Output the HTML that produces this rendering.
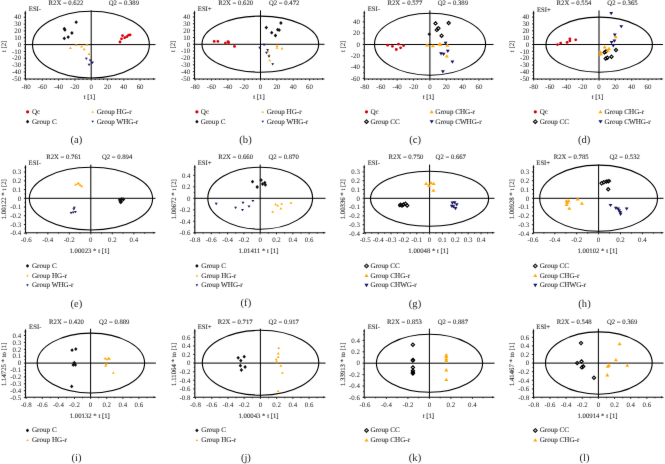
<!DOCTYPE html>
<html><head><meta charset="utf-8"><style>
html,body{margin:0;padding:0;background:#fff;}
svg{display:block;}
#w{width:665px;height:464px;}
text{font-family:"Liberation Serif", serif;stroke:#333;stroke-width:0.08px;text-rendering:geometricPrecision;}
</style></head><body>
<div id="w"><svg width="665" height="464" viewBox="0 0 665 464">
<defs><filter id="bl" filterUnits="userSpaceOnUse" x="0" y="0" width="665" height="464"><feConvolveMatrix order="3" kernelMatrix="0.005 0.045 0.005 0.045 0.8 0.045 0.005 0.045 0.005" edgeMode="duplicate" preserveAlpha="false"/></filter></defs>
<rect width="665" height="464" fill="#fff"/>
<g filter="url(#bl)">
<ellipse cx="90.95" cy="44.65" rx="58.45" ry="33.35" fill="none" stroke="#000" stroke-width="1.1"/>
<line x1="25.40" y1="44.60" x2="155.50" y2="44.60" stroke="#000" stroke-width="1.0"/>
<line x1="91.20" y1="10.40" x2="91.20" y2="79.00" stroke="#000" stroke-width="1.0"/>
<line x1="25.40" y1="12.40" x2="25.40" y2="79.50" stroke="#111" stroke-width="1.1"/>
<path d="M24.45 13.20L25.40 10.20L26.35 13.20Z" fill="#111"/>
<line x1="24.90" y1="79.00" x2="154.00" y2="79.00" stroke="#111" stroke-width="1.1"/>
<path d="M153.20 78.05L156.00 79.00L153.20 79.95Z" fill="#111"/>
<line x1="26.00" y1="79.00" x2="26.00" y2="80.60" stroke="#111" stroke-width="0.9"/>
<line x1="30.08" y1="79.00" x2="30.08" y2="80.00" stroke="#111" stroke-width="0.9"/>
<line x1="34.15" y1="79.00" x2="34.15" y2="80.00" stroke="#111" stroke-width="0.9"/>
<line x1="38.23" y1="79.00" x2="38.23" y2="80.00" stroke="#111" stroke-width="0.9"/>
<line x1="42.30" y1="79.00" x2="42.30" y2="80.60" stroke="#111" stroke-width="0.9"/>
<line x1="46.38" y1="79.00" x2="46.38" y2="80.00" stroke="#111" stroke-width="0.9"/>
<line x1="50.45" y1="79.00" x2="50.45" y2="80.00" stroke="#111" stroke-width="0.9"/>
<line x1="54.53" y1="79.00" x2="54.53" y2="80.00" stroke="#111" stroke-width="0.9"/>
<line x1="58.60" y1="79.00" x2="58.60" y2="80.60" stroke="#111" stroke-width="0.9"/>
<line x1="62.68" y1="79.00" x2="62.68" y2="80.00" stroke="#111" stroke-width="0.9"/>
<line x1="66.75" y1="79.00" x2="66.75" y2="80.00" stroke="#111" stroke-width="0.9"/>
<line x1="70.83" y1="79.00" x2="70.83" y2="80.00" stroke="#111" stroke-width="0.9"/>
<line x1="74.90" y1="79.00" x2="74.90" y2="80.60" stroke="#111" stroke-width="0.9"/>
<line x1="78.98" y1="79.00" x2="78.98" y2="80.00" stroke="#111" stroke-width="0.9"/>
<line x1="83.05" y1="79.00" x2="83.05" y2="80.00" stroke="#111" stroke-width="0.9"/>
<line x1="87.12" y1="79.00" x2="87.12" y2="80.00" stroke="#111" stroke-width="0.9"/>
<line x1="91.20" y1="79.00" x2="91.20" y2="80.60" stroke="#111" stroke-width="0.9"/>
<line x1="95.28" y1="79.00" x2="95.28" y2="80.00" stroke="#111" stroke-width="0.9"/>
<line x1="99.35" y1="79.00" x2="99.35" y2="80.00" stroke="#111" stroke-width="0.9"/>
<line x1="103.42" y1="79.00" x2="103.42" y2="80.00" stroke="#111" stroke-width="0.9"/>
<line x1="107.50" y1="79.00" x2="107.50" y2="80.60" stroke="#111" stroke-width="0.9"/>
<line x1="111.58" y1="79.00" x2="111.58" y2="80.00" stroke="#111" stroke-width="0.9"/>
<line x1="115.65" y1="79.00" x2="115.65" y2="80.00" stroke="#111" stroke-width="0.9"/>
<line x1="119.72" y1="79.00" x2="119.72" y2="80.00" stroke="#111" stroke-width="0.9"/>
<line x1="123.80" y1="79.00" x2="123.80" y2="80.60" stroke="#111" stroke-width="0.9"/>
<line x1="127.88" y1="79.00" x2="127.88" y2="80.00" stroke="#111" stroke-width="0.9"/>
<line x1="131.95" y1="79.00" x2="131.95" y2="80.00" stroke="#111" stroke-width="0.9"/>
<line x1="136.03" y1="79.00" x2="136.03" y2="80.00" stroke="#111" stroke-width="0.9"/>
<line x1="140.10" y1="79.00" x2="140.10" y2="80.60" stroke="#111" stroke-width="0.9"/>
<line x1="144.18" y1="79.00" x2="144.18" y2="80.00" stroke="#111" stroke-width="0.9"/>
<line x1="148.25" y1="79.00" x2="148.25" y2="80.00" stroke="#111" stroke-width="0.9"/>
<text x="26.00" y="88.90" font-size="6.9" text-anchor="middle" fill="#222" style="stroke:none">-80</text>
<text x="42.30" y="88.90" font-size="6.9" text-anchor="middle" fill="#222" style="stroke:none">-60</text>
<text x="58.60" y="88.90" font-size="6.9" text-anchor="middle" fill="#222" style="stroke:none">-40</text>
<text x="74.90" y="88.90" font-size="6.9" text-anchor="middle" fill="#222" style="stroke:none">-20</text>
<text x="91.20" y="88.90" font-size="6.9" text-anchor="middle" fill="#222" style="stroke:none">0</text>
<text x="107.50" y="88.90" font-size="6.9" text-anchor="middle" fill="#222" style="stroke:none">20</text>
<text x="123.80" y="88.90" font-size="6.9" text-anchor="middle" fill="#222" style="stroke:none">40</text>
<text x="140.10" y="88.90" font-size="6.9" text-anchor="middle" fill="#222" style="stroke:none">60</text>
<line x1="23.80" y1="78.80" x2="25.40" y2="78.80" stroke="#111" stroke-width="0.9"/>
<line x1="24.40" y1="75.38" x2="25.40" y2="75.38" stroke="#111" stroke-width="0.9"/>
<line x1="23.80" y1="71.96" x2="25.40" y2="71.96" stroke="#111" stroke-width="0.9"/>
<line x1="24.40" y1="68.54" x2="25.40" y2="68.54" stroke="#111" stroke-width="0.9"/>
<line x1="23.80" y1="65.12" x2="25.40" y2="65.12" stroke="#111" stroke-width="0.9"/>
<line x1="24.40" y1="61.70" x2="25.40" y2="61.70" stroke="#111" stroke-width="0.9"/>
<line x1="23.80" y1="58.28" x2="25.40" y2="58.28" stroke="#111" stroke-width="0.9"/>
<line x1="24.40" y1="54.86" x2="25.40" y2="54.86" stroke="#111" stroke-width="0.9"/>
<line x1="23.80" y1="51.44" x2="25.40" y2="51.44" stroke="#111" stroke-width="0.9"/>
<line x1="24.40" y1="48.02" x2="25.40" y2="48.02" stroke="#111" stroke-width="0.9"/>
<line x1="23.80" y1="44.60" x2="25.40" y2="44.60" stroke="#111" stroke-width="0.9"/>
<line x1="24.40" y1="41.18" x2="25.40" y2="41.18" stroke="#111" stroke-width="0.9"/>
<line x1="23.80" y1="37.76" x2="25.40" y2="37.76" stroke="#111" stroke-width="0.9"/>
<line x1="24.40" y1="34.34" x2="25.40" y2="34.34" stroke="#111" stroke-width="0.9"/>
<line x1="23.80" y1="30.92" x2="25.40" y2="30.92" stroke="#111" stroke-width="0.9"/>
<line x1="24.40" y1="27.50" x2="25.40" y2="27.50" stroke="#111" stroke-width="0.9"/>
<line x1="23.80" y1="24.08" x2="25.40" y2="24.08" stroke="#111" stroke-width="0.9"/>
<line x1="24.40" y1="20.66" x2="25.40" y2="20.66" stroke="#111" stroke-width="0.9"/>
<line x1="23.80" y1="17.24" x2="25.40" y2="17.24" stroke="#111" stroke-width="0.9"/>
<line x1="24.40" y1="13.82" x2="25.40" y2="13.82" stroke="#111" stroke-width="0.9"/>
<text x="21.10" y="81.00" font-size="6.9" text-anchor="end" fill="#222" style="stroke:none">-50</text>
<text x="21.10" y="74.16" font-size="6.9" text-anchor="end" fill="#222" style="stroke:none">-40</text>
<text x="21.10" y="67.32" font-size="6.9" text-anchor="end" fill="#222" style="stroke:none">-30</text>
<text x="21.10" y="60.48" font-size="6.9" text-anchor="end" fill="#222" style="stroke:none">-20</text>
<text x="21.10" y="53.64" font-size="6.9" text-anchor="end" fill="#222" style="stroke:none">-10</text>
<text x="21.10" y="46.80" font-size="6.9" text-anchor="end" fill="#222" style="stroke:none">0</text>
<text x="21.10" y="39.96" font-size="6.9" text-anchor="end" fill="#222" style="stroke:none">10</text>
<text x="21.10" y="33.12" font-size="6.9" text-anchor="end" fill="#222" style="stroke:none">20</text>
<text x="21.10" y="26.28" font-size="6.9" text-anchor="end" fill="#222" style="stroke:none">30</text>
<text x="21.10" y="19.44" font-size="6.9" text-anchor="end" fill="#222" style="stroke:none">40</text>
<text x="28.80" y="11.20" font-size="6.7" text-anchor="start" fill="#222">ESI-</text>
<text x="48.60" y="5.30" font-size="6.7" text-anchor="start" fill="#222">R2X = 0.622</text>
<text x="108.70" y="5.30" font-size="6.7" text-anchor="start" fill="#222">Q2 = 0.389</text>
<text x="89.50" y="98.60" font-size="6.75" text-anchor="middle" fill="#222">t [1]</text>
<text x="5.60" y="46.40" font-size="6.75" text-anchor="middle" fill="#222" transform="rotate(-90 5.60 46.40)">t [2]</text>
<circle cx="27.60" cy="111.85" r="1.61" fill="#d8000c"/>
<text x="32.00" y="113.80" font-size="7.1" text-anchor="start" fill="#222">Qc</text>
<path d="M27.60 119.75L29.31 121.65L27.60 123.55L25.89 121.65Z" fill="#111"/>
<text x="32.00" y="123.60" font-size="7.1" text-anchor="start" fill="#222">Group C</text>
<path d="M92.70 110.65L93.96 112.75L91.44 112.75Z" fill="#ffa800"/>
<text x="96.70" y="113.80" font-size="7.1" text-anchor="start" fill="#222">Group HG-r</text>
<path d="M92.70 122.85L93.96 120.75L91.44 120.75Z" fill="#15135a"/>
<text x="96.70" y="123.60" font-size="7.1" text-anchor="start" fill="#222">Group WHG-r</text>
<text x="76.40" y="143.00" font-size="10.6" text-anchor="middle" fill="#222" style="stroke:none">(a)</text>
<circle cx="120.00" cy="42.00" r="1.40" fill="#d8000c"/>
<circle cx="121.50" cy="38.80" r="1.40" fill="#d8000c"/>
<circle cx="122.50" cy="35.60" r="1.40" fill="#d8000c"/>
<circle cx="124.70" cy="37.70" r="1.40" fill="#d8000c"/>
<circle cx="126.90" cy="36.70" r="1.40" fill="#d8000c"/>
<circle cx="128.60" cy="35.20" r="1.40" fill="#d8000c"/>
<circle cx="130.10" cy="34.90" r="1.40" fill="#d8000c"/>
<path d="M64.30 26.80L66.01 28.70L64.30 30.60L62.59 28.70Z" fill="#111"/>
<path d="M64.90 28.00L66.61 29.90L64.90 31.80L63.19 29.90Z" fill="#111"/>
<path d="M76.20 20.30L77.91 22.20L76.20 24.10L74.49 22.20Z" fill="#111"/>
<path d="M71.90 31.10L73.61 33.00L71.90 34.90L70.19 33.00Z" fill="#111"/>
<path d="M68.20 35.20L69.91 37.10L68.20 39.00L66.49 37.10Z" fill="#111"/>
<path d="M64.30 36.50L66.01 38.40L64.30 40.30L62.59 38.40Z" fill="#111"/>
<path d="M70.40 46.55L71.82 48.91L68.98 48.91Z" fill="#ffa800"/>
<path d="M76.20 43.55L77.62 45.91L74.78 45.91Z" fill="#ffa800"/>
<path d="M81.60 45.05L83.02 47.41L80.18 47.41Z" fill="#ffa800"/>
<path d="M84.20 47.85L85.62 50.21L82.78 50.21Z" fill="#ffa800"/>
<path d="M87.00 43.35L88.42 45.71L85.58 45.71Z" fill="#ffa800"/>
<path d="M89.10 52.55L90.52 54.91L87.68 54.91Z" fill="#ffa800"/>
<path d="M86.30 60.05L87.72 57.69L84.88 57.69Z" fill="#15135a"/>
<path d="M90.20 61.75L91.62 59.39L88.78 59.39Z" fill="#15135a"/>
<path d="M91.90 64.35L93.32 61.99L90.48 61.99Z" fill="#15135a"/>
<path d="M89.10 66.05L90.52 63.69L87.68 63.69Z" fill="#15135a"/>
<path d="M92.50 63.85L93.92 61.49L91.08 61.49Z" fill="#15135a"/>
<ellipse cx="260.35" cy="44.15" rx="58.35" ry="28.05" fill="none" stroke="#000" stroke-width="1.1"/>
<line x1="194.50" y1="44.30" x2="324.50" y2="44.30" stroke="#000" stroke-width="1.0"/>
<line x1="260.50" y1="10.40" x2="260.50" y2="79.00" stroke="#000" stroke-width="1.0"/>
<line x1="194.50" y1="12.40" x2="194.50" y2="79.50" stroke="#111" stroke-width="1.1"/>
<path d="M193.55 13.20L194.50 10.20L195.45 13.20Z" fill="#111"/>
<line x1="194.00" y1="79.00" x2="323.00" y2="79.00" stroke="#111" stroke-width="1.1"/>
<path d="M322.20 78.05L325.00 79.00L322.20 79.95Z" fill="#111"/>
<line x1="195.10" y1="79.00" x2="195.10" y2="80.60" stroke="#111" stroke-width="0.9"/>
<line x1="199.19" y1="79.00" x2="199.19" y2="80.00" stroke="#111" stroke-width="0.9"/>
<line x1="203.28" y1="79.00" x2="203.28" y2="80.00" stroke="#111" stroke-width="0.9"/>
<line x1="207.36" y1="79.00" x2="207.36" y2="80.00" stroke="#111" stroke-width="0.9"/>
<line x1="211.45" y1="79.00" x2="211.45" y2="80.60" stroke="#111" stroke-width="0.9"/>
<line x1="215.54" y1="79.00" x2="215.54" y2="80.00" stroke="#111" stroke-width="0.9"/>
<line x1="219.62" y1="79.00" x2="219.62" y2="80.00" stroke="#111" stroke-width="0.9"/>
<line x1="223.71" y1="79.00" x2="223.71" y2="80.00" stroke="#111" stroke-width="0.9"/>
<line x1="227.80" y1="79.00" x2="227.80" y2="80.60" stroke="#111" stroke-width="0.9"/>
<line x1="231.89" y1="79.00" x2="231.89" y2="80.00" stroke="#111" stroke-width="0.9"/>
<line x1="235.97" y1="79.00" x2="235.97" y2="80.00" stroke="#111" stroke-width="0.9"/>
<line x1="240.06" y1="79.00" x2="240.06" y2="80.00" stroke="#111" stroke-width="0.9"/>
<line x1="244.15" y1="79.00" x2="244.15" y2="80.60" stroke="#111" stroke-width="0.9"/>
<line x1="248.24" y1="79.00" x2="248.24" y2="80.00" stroke="#111" stroke-width="0.9"/>
<line x1="252.32" y1="79.00" x2="252.32" y2="80.00" stroke="#111" stroke-width="0.9"/>
<line x1="256.41" y1="79.00" x2="256.41" y2="80.00" stroke="#111" stroke-width="0.9"/>
<line x1="260.50" y1="79.00" x2="260.50" y2="80.60" stroke="#111" stroke-width="0.9"/>
<line x1="264.59" y1="79.00" x2="264.59" y2="80.00" stroke="#111" stroke-width="0.9"/>
<line x1="268.68" y1="79.00" x2="268.68" y2="80.00" stroke="#111" stroke-width="0.9"/>
<line x1="272.76" y1="79.00" x2="272.76" y2="80.00" stroke="#111" stroke-width="0.9"/>
<line x1="276.85" y1="79.00" x2="276.85" y2="80.60" stroke="#111" stroke-width="0.9"/>
<line x1="280.94" y1="79.00" x2="280.94" y2="80.00" stroke="#111" stroke-width="0.9"/>
<line x1="285.02" y1="79.00" x2="285.02" y2="80.00" stroke="#111" stroke-width="0.9"/>
<line x1="289.11" y1="79.00" x2="289.11" y2="80.00" stroke="#111" stroke-width="0.9"/>
<line x1="293.20" y1="79.00" x2="293.20" y2="80.60" stroke="#111" stroke-width="0.9"/>
<line x1="297.29" y1="79.00" x2="297.29" y2="80.00" stroke="#111" stroke-width="0.9"/>
<line x1="301.38" y1="79.00" x2="301.38" y2="80.00" stroke="#111" stroke-width="0.9"/>
<line x1="305.46" y1="79.00" x2="305.46" y2="80.00" stroke="#111" stroke-width="0.9"/>
<line x1="309.55" y1="79.00" x2="309.55" y2="80.60" stroke="#111" stroke-width="0.9"/>
<line x1="313.64" y1="79.00" x2="313.64" y2="80.00" stroke="#111" stroke-width="0.9"/>
<line x1="317.73" y1="79.00" x2="317.73" y2="80.00" stroke="#111" stroke-width="0.9"/>
<text x="195.10" y="88.90" font-size="6.9" text-anchor="middle" fill="#222" style="stroke:none">-80</text>
<text x="211.45" y="88.90" font-size="6.9" text-anchor="middle" fill="#222" style="stroke:none">-60</text>
<text x="227.80" y="88.90" font-size="6.9" text-anchor="middle" fill="#222" style="stroke:none">-40</text>
<text x="244.15" y="88.90" font-size="6.9" text-anchor="middle" fill="#222" style="stroke:none">-20</text>
<text x="260.50" y="88.90" font-size="6.9" text-anchor="middle" fill="#222" style="stroke:none">0</text>
<text x="276.85" y="88.90" font-size="6.9" text-anchor="middle" fill="#222" style="stroke:none">20</text>
<text x="293.20" y="88.90" font-size="6.9" text-anchor="middle" fill="#222" style="stroke:none">40</text>
<text x="309.55" y="88.90" font-size="6.9" text-anchor="middle" fill="#222" style="stroke:none">60</text>
<line x1="192.90" y1="78.50" x2="194.50" y2="78.50" stroke="#111" stroke-width="0.9"/>
<line x1="193.50" y1="75.08" x2="194.50" y2="75.08" stroke="#111" stroke-width="0.9"/>
<line x1="192.90" y1="71.66" x2="194.50" y2="71.66" stroke="#111" stroke-width="0.9"/>
<line x1="193.50" y1="68.24" x2="194.50" y2="68.24" stroke="#111" stroke-width="0.9"/>
<line x1="192.90" y1="64.82" x2="194.50" y2="64.82" stroke="#111" stroke-width="0.9"/>
<line x1="193.50" y1="61.40" x2="194.50" y2="61.40" stroke="#111" stroke-width="0.9"/>
<line x1="192.90" y1="57.98" x2="194.50" y2="57.98" stroke="#111" stroke-width="0.9"/>
<line x1="193.50" y1="54.56" x2="194.50" y2="54.56" stroke="#111" stroke-width="0.9"/>
<line x1="192.90" y1="51.14" x2="194.50" y2="51.14" stroke="#111" stroke-width="0.9"/>
<line x1="193.50" y1="47.72" x2="194.50" y2="47.72" stroke="#111" stroke-width="0.9"/>
<line x1="192.90" y1="44.30" x2="194.50" y2="44.30" stroke="#111" stroke-width="0.9"/>
<line x1="193.50" y1="40.88" x2="194.50" y2="40.88" stroke="#111" stroke-width="0.9"/>
<line x1="192.90" y1="37.46" x2="194.50" y2="37.46" stroke="#111" stroke-width="0.9"/>
<line x1="193.50" y1="34.04" x2="194.50" y2="34.04" stroke="#111" stroke-width="0.9"/>
<line x1="192.90" y1="30.62" x2="194.50" y2="30.62" stroke="#111" stroke-width="0.9"/>
<line x1="193.50" y1="27.20" x2="194.50" y2="27.20" stroke="#111" stroke-width="0.9"/>
<line x1="192.90" y1="23.78" x2="194.50" y2="23.78" stroke="#111" stroke-width="0.9"/>
<line x1="193.50" y1="20.36" x2="194.50" y2="20.36" stroke="#111" stroke-width="0.9"/>
<line x1="192.90" y1="16.94" x2="194.50" y2="16.94" stroke="#111" stroke-width="0.9"/>
<line x1="193.50" y1="13.52" x2="194.50" y2="13.52" stroke="#111" stroke-width="0.9"/>
<text x="190.20" y="80.70" font-size="6.9" text-anchor="end" fill="#222" style="stroke:none">-50</text>
<text x="190.20" y="73.86" font-size="6.9" text-anchor="end" fill="#222" style="stroke:none">-40</text>
<text x="190.20" y="67.02" font-size="6.9" text-anchor="end" fill="#222" style="stroke:none">-30</text>
<text x="190.20" y="60.18" font-size="6.9" text-anchor="end" fill="#222" style="stroke:none">-20</text>
<text x="190.20" y="53.34" font-size="6.9" text-anchor="end" fill="#222" style="stroke:none">-10</text>
<text x="190.20" y="46.50" font-size="6.9" text-anchor="end" fill="#222" style="stroke:none">0</text>
<text x="190.20" y="39.66" font-size="6.9" text-anchor="end" fill="#222" style="stroke:none">10</text>
<text x="190.20" y="32.82" font-size="6.9" text-anchor="end" fill="#222" style="stroke:none">20</text>
<text x="190.20" y="25.98" font-size="6.9" text-anchor="end" fill="#222" style="stroke:none">30</text>
<text x="190.20" y="19.14" font-size="6.9" text-anchor="end" fill="#222" style="stroke:none">40</text>
<text x="197.80" y="11.00" font-size="6.7" text-anchor="start" fill="#222">ESI+</text>
<text x="218.30" y="5.30" font-size="6.7" text-anchor="start" fill="#222">R2X = 0.620</text>
<text x="269.00" y="5.30" font-size="6.7" text-anchor="start" fill="#222">Q2 = 0.472</text>
<text x="259.00" y="98.60" font-size="6.75" text-anchor="middle" fill="#222">t [1]</text>
<text x="175.50" y="46.40" font-size="6.75" text-anchor="middle" fill="#222" transform="rotate(-90 175.50 46.40)">t [2]</text>
<circle cx="196.90" cy="111.85" r="1.61" fill="#d8000c"/>
<text x="200.80" y="113.80" font-size="7.1" text-anchor="start" fill="#222">Qc</text>
<path d="M196.90 119.75L198.61 121.65L196.90 123.55L195.19 121.65Z" fill="#111"/>
<text x="200.80" y="123.60" font-size="7.1" text-anchor="start" fill="#222">Group C</text>
<path d="M262.80 110.65L264.06 112.75L261.54 112.75Z" fill="#ffa800"/>
<text x="266.70" y="113.80" font-size="7.1" text-anchor="start" fill="#222">Group HG-r</text>
<path d="M262.80 122.85L264.06 120.75L261.54 120.75Z" fill="#15135a"/>
<text x="266.70" y="123.60" font-size="7.1" text-anchor="start" fill="#222">Group WHG-r</text>
<text x="245.50" y="142.60" font-size="10.6" text-anchor="middle" fill="#222" style="stroke:none">(b)</text>
<circle cx="214.20" cy="41.40" r="1.40" fill="#d8000c"/>
<circle cx="217.90" cy="41.40" r="1.40" fill="#d8000c"/>
<circle cx="225.40" cy="43.10" r="1.40" fill="#d8000c"/>
<circle cx="228.00" cy="41.60" r="1.40" fill="#d8000c"/>
<circle cx="228.60" cy="42.70" r="1.40" fill="#d8000c"/>
<circle cx="234.50" cy="46.40" r="1.40" fill="#d8000c"/>
<path d="M266.30 25.70L268.01 27.60L266.30 29.50L264.59 27.60Z" fill="#111"/>
<path d="M271.70 30.80L273.41 32.70L271.70 34.60L269.99 32.70Z" fill="#111"/>
<path d="M275.50 33.60L277.21 35.50L275.50 37.40L273.79 35.50Z" fill="#111"/>
<path d="M277.70 27.80L279.41 29.70L277.70 31.60L275.99 29.70Z" fill="#111"/>
<path d="M279.20 28.20L280.91 30.10L279.20 32.00L277.49 30.10Z" fill="#111"/>
<path d="M280.90 21.10L282.61 23.00L280.90 24.90L279.19 23.00Z" fill="#111"/>
<path d="M277.00 44.35L278.42 46.71L275.58 46.71Z" fill="#ffa800"/>
<path d="M277.00 46.45L278.42 48.81L275.58 48.81Z" fill="#ffa800"/>
<path d="M282.00 47.05L283.42 49.41L280.58 49.41Z" fill="#ffa800"/>
<path d="M268.00 49.85L269.42 52.21L266.58 52.21Z" fill="#ffa800"/>
<path d="M269.00 53.55L270.42 55.91L267.58 55.91Z" fill="#ffa800"/>
<path d="M269.70 58.95L271.12 61.31L268.28 61.31Z" fill="#ffa800"/>
<path d="M259.80 49.15L261.22 46.79L258.38 46.79Z" fill="#15135a"/>
<path d="M264.10 46.15L265.52 43.79L262.68 43.79Z" fill="#15135a"/>
<path d="M267.60 51.35L269.02 48.99L266.18 48.99Z" fill="#15135a"/>
<path d="M266.50 54.15L267.92 51.79L265.08 51.79Z" fill="#15135a"/>
<path d="M269.00 57.75L270.42 55.39L267.58 55.39Z" fill="#15135a"/>
<path d="M272.70 65.55L274.12 63.19L271.28 63.19Z" fill="#15135a"/>
<ellipse cx="430.05" cy="44.25" rx="55.55" ry="30.95" fill="none" stroke="#000" stroke-width="1.1"/>
<line x1="364.30" y1="44.50" x2="493.50" y2="44.50" stroke="#000" stroke-width="1.0"/>
<line x1="429.90" y1="10.40" x2="429.90" y2="79.00" stroke="#000" stroke-width="1.0"/>
<line x1="364.30" y1="12.40" x2="364.30" y2="79.50" stroke="#111" stroke-width="1.1"/>
<path d="M363.35 13.20L364.30 10.20L365.25 13.20Z" fill="#111"/>
<line x1="363.80" y1="79.00" x2="492.00" y2="79.00" stroke="#111" stroke-width="1.1"/>
<path d="M491.20 78.05L494.00 79.00L491.20 79.95Z" fill="#111"/>
<line x1="364.50" y1="79.00" x2="364.50" y2="80.60" stroke="#111" stroke-width="0.9"/>
<line x1="368.59" y1="79.00" x2="368.59" y2="80.00" stroke="#111" stroke-width="0.9"/>
<line x1="372.67" y1="79.00" x2="372.67" y2="80.00" stroke="#111" stroke-width="0.9"/>
<line x1="376.76" y1="79.00" x2="376.76" y2="80.00" stroke="#111" stroke-width="0.9"/>
<line x1="380.85" y1="79.00" x2="380.85" y2="80.60" stroke="#111" stroke-width="0.9"/>
<line x1="384.94" y1="79.00" x2="384.94" y2="80.00" stroke="#111" stroke-width="0.9"/>
<line x1="389.02" y1="79.00" x2="389.02" y2="80.00" stroke="#111" stroke-width="0.9"/>
<line x1="393.11" y1="79.00" x2="393.11" y2="80.00" stroke="#111" stroke-width="0.9"/>
<line x1="397.20" y1="79.00" x2="397.20" y2="80.60" stroke="#111" stroke-width="0.9"/>
<line x1="401.29" y1="79.00" x2="401.29" y2="80.00" stroke="#111" stroke-width="0.9"/>
<line x1="405.38" y1="79.00" x2="405.38" y2="80.00" stroke="#111" stroke-width="0.9"/>
<line x1="409.46" y1="79.00" x2="409.46" y2="80.00" stroke="#111" stroke-width="0.9"/>
<line x1="413.55" y1="79.00" x2="413.55" y2="80.60" stroke="#111" stroke-width="0.9"/>
<line x1="417.64" y1="79.00" x2="417.64" y2="80.00" stroke="#111" stroke-width="0.9"/>
<line x1="421.72" y1="79.00" x2="421.72" y2="80.00" stroke="#111" stroke-width="0.9"/>
<line x1="425.81" y1="79.00" x2="425.81" y2="80.00" stroke="#111" stroke-width="0.9"/>
<line x1="429.90" y1="79.00" x2="429.90" y2="80.60" stroke="#111" stroke-width="0.9"/>
<line x1="433.99" y1="79.00" x2="433.99" y2="80.00" stroke="#111" stroke-width="0.9"/>
<line x1="438.07" y1="79.00" x2="438.07" y2="80.00" stroke="#111" stroke-width="0.9"/>
<line x1="442.16" y1="79.00" x2="442.16" y2="80.00" stroke="#111" stroke-width="0.9"/>
<line x1="446.25" y1="79.00" x2="446.25" y2="80.60" stroke="#111" stroke-width="0.9"/>
<line x1="450.34" y1="79.00" x2="450.34" y2="80.00" stroke="#111" stroke-width="0.9"/>
<line x1="454.42" y1="79.00" x2="454.42" y2="80.00" stroke="#111" stroke-width="0.9"/>
<line x1="458.51" y1="79.00" x2="458.51" y2="80.00" stroke="#111" stroke-width="0.9"/>
<line x1="462.60" y1="79.00" x2="462.60" y2="80.60" stroke="#111" stroke-width="0.9"/>
<line x1="466.69" y1="79.00" x2="466.69" y2="80.00" stroke="#111" stroke-width="0.9"/>
<line x1="470.77" y1="79.00" x2="470.77" y2="80.00" stroke="#111" stroke-width="0.9"/>
<line x1="474.86" y1="79.00" x2="474.86" y2="80.00" stroke="#111" stroke-width="0.9"/>
<line x1="478.95" y1="79.00" x2="478.95" y2="80.60" stroke="#111" stroke-width="0.9"/>
<line x1="483.04" y1="79.00" x2="483.04" y2="80.00" stroke="#111" stroke-width="0.9"/>
<line x1="487.12" y1="79.00" x2="487.12" y2="80.00" stroke="#111" stroke-width="0.9"/>
<text x="364.50" y="88.90" font-size="6.9" text-anchor="middle" fill="#222" style="stroke:none">-80</text>
<text x="380.85" y="88.90" font-size="6.9" text-anchor="middle" fill="#222" style="stroke:none">-60</text>
<text x="397.20" y="88.90" font-size="6.9" text-anchor="middle" fill="#222" style="stroke:none">-40</text>
<text x="413.55" y="88.90" font-size="6.9" text-anchor="middle" fill="#222" style="stroke:none">-20</text>
<text x="429.90" y="88.90" font-size="6.9" text-anchor="middle" fill="#222" style="stroke:none">0</text>
<text x="446.25" y="88.90" font-size="6.9" text-anchor="middle" fill="#222" style="stroke:none">20</text>
<text x="462.60" y="88.90" font-size="6.9" text-anchor="middle" fill="#222" style="stroke:none">40</text>
<text x="478.95" y="88.90" font-size="6.9" text-anchor="middle" fill="#222" style="stroke:none">60</text>
<line x1="362.70" y1="78.40" x2="364.30" y2="78.40" stroke="#111" stroke-width="0.9"/>
<line x1="363.30" y1="72.75" x2="364.30" y2="72.75" stroke="#111" stroke-width="0.9"/>
<line x1="362.70" y1="67.10" x2="364.30" y2="67.10" stroke="#111" stroke-width="0.9"/>
<line x1="363.30" y1="61.45" x2="364.30" y2="61.45" stroke="#111" stroke-width="0.9"/>
<line x1="362.70" y1="55.80" x2="364.30" y2="55.80" stroke="#111" stroke-width="0.9"/>
<line x1="363.30" y1="50.15" x2="364.30" y2="50.15" stroke="#111" stroke-width="0.9"/>
<line x1="362.70" y1="44.50" x2="364.30" y2="44.50" stroke="#111" stroke-width="0.9"/>
<line x1="363.30" y1="38.85" x2="364.30" y2="38.85" stroke="#111" stroke-width="0.9"/>
<line x1="362.70" y1="33.20" x2="364.30" y2="33.20" stroke="#111" stroke-width="0.9"/>
<line x1="363.30" y1="27.55" x2="364.30" y2="27.55" stroke="#111" stroke-width="0.9"/>
<line x1="362.70" y1="21.90" x2="364.30" y2="21.90" stroke="#111" stroke-width="0.9"/>
<line x1="363.30" y1="16.25" x2="364.30" y2="16.25" stroke="#111" stroke-width="0.9"/>
<text x="360.00" y="80.60" font-size="6.9" text-anchor="end" fill="#222" style="stroke:none">-60</text>
<text x="360.00" y="69.30" font-size="6.9" text-anchor="end" fill="#222" style="stroke:none">-40</text>
<text x="360.00" y="58.00" font-size="6.9" text-anchor="end" fill="#222" style="stroke:none">-20</text>
<text x="360.00" y="46.70" font-size="6.9" text-anchor="end" fill="#222" style="stroke:none">0</text>
<text x="360.00" y="35.40" font-size="6.9" text-anchor="end" fill="#222" style="stroke:none">20</text>
<text x="360.00" y="24.10" font-size="6.9" text-anchor="end" fill="#222" style="stroke:none">40</text>
<text x="367.70" y="11.00" font-size="6.7" text-anchor="start" fill="#222">ESI-</text>
<text x="387.50" y="5.30" font-size="6.7" text-anchor="start" fill="#222">R2X = 0.577</text>
<text x="437.70" y="5.30" font-size="6.7" text-anchor="start" fill="#222">Q2 = 0.389</text>
<text x="428.40" y="98.60" font-size="6.75" text-anchor="middle" fill="#222">t [1]</text>
<text x="344.80" y="46.40" font-size="6.75" text-anchor="middle" fill="#222" transform="rotate(-90 344.80 46.40)">t [2]</text>
<circle cx="366.50" cy="111.85" r="1.61" fill="#d8000c"/>
<text x="370.40" y="113.80" font-size="7.1" text-anchor="start" fill="#222">Qc</text>
<path d="M366.50 119.85L368.39 121.65L366.50 123.45L364.61 121.65Z" fill="#bbb" stroke="#000" stroke-width="1.03"/>
<text x="370.40" y="123.60" font-size="7.1" text-anchor="start" fill="#222">Group CC</text>
<path d="M431.70 109.90L433.75 113.31L429.65 113.31Z" fill="#ffa800"/>
<text x="435.30" y="113.80" font-size="7.1" text-anchor="start" fill="#222">Group CHG-r</text>
<path d="M431.70 123.60L433.75 120.19L429.65 120.19Z" fill="#15135a"/>
<text x="435.30" y="123.60" font-size="7.1" text-anchor="start" fill="#222">Group CWHG-r</text>
<text x="415.20" y="142.60" font-size="10.6" text-anchor="middle" fill="#222" style="stroke:none">(c)</text>
<circle cx="387.70" cy="45.20" r="1.40" fill="#d8000c"/>
<circle cx="392.40" cy="46.30" r="1.40" fill="#d8000c"/>
<circle cx="396.30" cy="49.50" r="1.40" fill="#d8000c"/>
<circle cx="398.50" cy="44.10" r="1.40" fill="#d8000c"/>
<circle cx="400.60" cy="47.80" r="1.40" fill="#d8000c"/>
<circle cx="403.60" cy="45.60" r="1.40" fill="#d8000c"/>
<path d="M435.50 21.75L437.15 23.40L435.50 25.05L433.85 23.40Z" fill="none" stroke="#000" stroke-width="1.10"/>
<path d="M448.70 21.35L450.35 23.00L448.70 24.65L447.05 23.00Z" fill="none" stroke="#000" stroke-width="1.10"/>
<path d="M436.80 28.25L438.45 29.90L436.80 31.55L435.15 29.90Z" fill="none" stroke="#000" stroke-width="1.10"/>
<path d="M438.40 26.65L440.05 28.30L438.40 29.95L436.75 28.30Z" fill="none" stroke="#000" stroke-width="1.10"/>
<path d="M441.60 34.05L443.25 35.70L441.60 37.35L439.95 35.70Z" fill="none" stroke="#000" stroke-width="1.10"/>
<path d="M429.30 32.30L431.01 34.20L429.30 36.10L427.59 34.20Z" fill="#111"/>
<path d="M427.10 43.12L429.07 46.41L425.13 46.41Z" fill="#ffa800"/>
<path d="M432.90 43.92L434.87 47.21L430.93 47.21Z" fill="#ffa800"/>
<path d="M439.40 42.23L441.37 45.51L437.43 45.51Z" fill="#ffa800"/>
<path d="M440.50 42.62L442.47 45.91L438.53 45.91Z" fill="#ffa800"/>
<path d="M447.40 43.52L449.37 46.81L445.43 46.81Z" fill="#ffa800"/>
<path d="M446.80 54.33L448.77 57.61L444.83 57.61Z" fill="#ffa800"/>
<path d="M445.60 45.00L447.49 41.85L443.71 41.85Z" fill="#15135a"/>
<path d="M447.80 53.00L449.69 49.85L445.91 49.85Z" fill="#15135a"/>
<path d="M441.00 55.40L442.89 52.25L439.11 52.25Z" fill="#15135a"/>
<path d="M443.60 56.00L445.49 52.85L441.71 52.85Z" fill="#15135a"/>
<path d="M452.40 63.70L454.29 60.55L450.51 60.55Z" fill="#15135a"/>
<path d="M442.90 73.50L444.79 70.35L441.01 70.35Z" fill="#15135a"/>
<ellipse cx="599.20" cy="44.65" rx="53.20" ry="27.55" fill="none" stroke="#000" stroke-width="1.1"/>
<line x1="533.60" y1="44.50" x2="663.00" y2="44.50" stroke="#000" stroke-width="1.0"/>
<line x1="599.00" y1="10.40" x2="599.00" y2="79.00" stroke="#000" stroke-width="1.0"/>
<line x1="533.60" y1="12.40" x2="533.60" y2="79.50" stroke="#111" stroke-width="1.1"/>
<path d="M532.65 13.20L533.60 10.20L534.55 13.20Z" fill="#111"/>
<line x1="533.10" y1="79.00" x2="661.50" y2="79.00" stroke="#111" stroke-width="1.1"/>
<path d="M660.70 78.05L663.50 79.00L660.70 79.95Z" fill="#111"/>
<line x1="533.60" y1="79.00" x2="533.60" y2="80.60" stroke="#111" stroke-width="0.9"/>
<line x1="537.69" y1="79.00" x2="537.69" y2="80.00" stroke="#111" stroke-width="0.9"/>
<line x1="541.77" y1="79.00" x2="541.77" y2="80.00" stroke="#111" stroke-width="0.9"/>
<line x1="545.86" y1="79.00" x2="545.86" y2="80.00" stroke="#111" stroke-width="0.9"/>
<line x1="549.95" y1="79.00" x2="549.95" y2="80.60" stroke="#111" stroke-width="0.9"/>
<line x1="554.04" y1="79.00" x2="554.04" y2="80.00" stroke="#111" stroke-width="0.9"/>
<line x1="558.12" y1="79.00" x2="558.12" y2="80.00" stroke="#111" stroke-width="0.9"/>
<line x1="562.21" y1="79.00" x2="562.21" y2="80.00" stroke="#111" stroke-width="0.9"/>
<line x1="566.30" y1="79.00" x2="566.30" y2="80.60" stroke="#111" stroke-width="0.9"/>
<line x1="570.39" y1="79.00" x2="570.39" y2="80.00" stroke="#111" stroke-width="0.9"/>
<line x1="574.48" y1="79.00" x2="574.48" y2="80.00" stroke="#111" stroke-width="0.9"/>
<line x1="578.56" y1="79.00" x2="578.56" y2="80.00" stroke="#111" stroke-width="0.9"/>
<line x1="582.65" y1="79.00" x2="582.65" y2="80.60" stroke="#111" stroke-width="0.9"/>
<line x1="586.74" y1="79.00" x2="586.74" y2="80.00" stroke="#111" stroke-width="0.9"/>
<line x1="590.83" y1="79.00" x2="590.83" y2="80.00" stroke="#111" stroke-width="0.9"/>
<line x1="594.91" y1="79.00" x2="594.91" y2="80.00" stroke="#111" stroke-width="0.9"/>
<line x1="599.00" y1="79.00" x2="599.00" y2="80.60" stroke="#111" stroke-width="0.9"/>
<line x1="603.09" y1="79.00" x2="603.09" y2="80.00" stroke="#111" stroke-width="0.9"/>
<line x1="607.17" y1="79.00" x2="607.17" y2="80.00" stroke="#111" stroke-width="0.9"/>
<line x1="611.26" y1="79.00" x2="611.26" y2="80.00" stroke="#111" stroke-width="0.9"/>
<line x1="615.35" y1="79.00" x2="615.35" y2="80.60" stroke="#111" stroke-width="0.9"/>
<line x1="619.44" y1="79.00" x2="619.44" y2="80.00" stroke="#111" stroke-width="0.9"/>
<line x1="623.52" y1="79.00" x2="623.52" y2="80.00" stroke="#111" stroke-width="0.9"/>
<line x1="627.61" y1="79.00" x2="627.61" y2="80.00" stroke="#111" stroke-width="0.9"/>
<line x1="631.70" y1="79.00" x2="631.70" y2="80.60" stroke="#111" stroke-width="0.9"/>
<line x1="635.79" y1="79.00" x2="635.79" y2="80.00" stroke="#111" stroke-width="0.9"/>
<line x1="639.88" y1="79.00" x2="639.88" y2="80.00" stroke="#111" stroke-width="0.9"/>
<line x1="643.96" y1="79.00" x2="643.96" y2="80.00" stroke="#111" stroke-width="0.9"/>
<line x1="648.05" y1="79.00" x2="648.05" y2="80.60" stroke="#111" stroke-width="0.9"/>
<line x1="652.14" y1="79.00" x2="652.14" y2="80.00" stroke="#111" stroke-width="0.9"/>
<line x1="656.23" y1="79.00" x2="656.23" y2="80.00" stroke="#111" stroke-width="0.9"/>
<text x="533.60" y="88.90" font-size="6.9" text-anchor="middle" fill="#222" style="stroke:none">-80</text>
<text x="549.95" y="88.90" font-size="6.9" text-anchor="middle" fill="#222" style="stroke:none">-60</text>
<text x="566.30" y="88.90" font-size="6.9" text-anchor="middle" fill="#222" style="stroke:none">-40</text>
<text x="582.65" y="88.90" font-size="6.9" text-anchor="middle" fill="#222" style="stroke:none">-20</text>
<text x="599.00" y="88.90" font-size="6.9" text-anchor="middle" fill="#222" style="stroke:none">0</text>
<text x="615.35" y="88.90" font-size="6.9" text-anchor="middle" fill="#222" style="stroke:none">20</text>
<text x="631.70" y="88.90" font-size="6.9" text-anchor="middle" fill="#222" style="stroke:none">40</text>
<text x="648.05" y="88.90" font-size="6.9" text-anchor="middle" fill="#222" style="stroke:none">60</text>
<line x1="532.00" y1="78.70" x2="533.60" y2="78.70" stroke="#111" stroke-width="0.9"/>
<line x1="532.60" y1="75.28" x2="533.60" y2="75.28" stroke="#111" stroke-width="0.9"/>
<line x1="532.00" y1="71.86" x2="533.60" y2="71.86" stroke="#111" stroke-width="0.9"/>
<line x1="532.60" y1="68.44" x2="533.60" y2="68.44" stroke="#111" stroke-width="0.9"/>
<line x1="532.00" y1="65.02" x2="533.60" y2="65.02" stroke="#111" stroke-width="0.9"/>
<line x1="532.60" y1="61.60" x2="533.60" y2="61.60" stroke="#111" stroke-width="0.9"/>
<line x1="532.00" y1="58.18" x2="533.60" y2="58.18" stroke="#111" stroke-width="0.9"/>
<line x1="532.60" y1="54.76" x2="533.60" y2="54.76" stroke="#111" stroke-width="0.9"/>
<line x1="532.00" y1="51.34" x2="533.60" y2="51.34" stroke="#111" stroke-width="0.9"/>
<line x1="532.60" y1="47.92" x2="533.60" y2="47.92" stroke="#111" stroke-width="0.9"/>
<line x1="532.00" y1="44.50" x2="533.60" y2="44.50" stroke="#111" stroke-width="0.9"/>
<line x1="532.60" y1="41.08" x2="533.60" y2="41.08" stroke="#111" stroke-width="0.9"/>
<line x1="532.00" y1="37.66" x2="533.60" y2="37.66" stroke="#111" stroke-width="0.9"/>
<line x1="532.60" y1="34.24" x2="533.60" y2="34.24" stroke="#111" stroke-width="0.9"/>
<line x1="532.00" y1="30.82" x2="533.60" y2="30.82" stroke="#111" stroke-width="0.9"/>
<line x1="532.60" y1="27.40" x2="533.60" y2="27.40" stroke="#111" stroke-width="0.9"/>
<line x1="532.00" y1="23.98" x2="533.60" y2="23.98" stroke="#111" stroke-width="0.9"/>
<line x1="532.60" y1="20.56" x2="533.60" y2="20.56" stroke="#111" stroke-width="0.9"/>
<line x1="532.00" y1="17.14" x2="533.60" y2="17.14" stroke="#111" stroke-width="0.9"/>
<line x1="532.60" y1="13.72" x2="533.60" y2="13.72" stroke="#111" stroke-width="0.9"/>
<text x="529.30" y="80.90" font-size="6.9" text-anchor="end" fill="#222" style="stroke:none">-50</text>
<text x="529.30" y="74.06" font-size="6.9" text-anchor="end" fill="#222" style="stroke:none">-40</text>
<text x="529.30" y="67.22" font-size="6.9" text-anchor="end" fill="#222" style="stroke:none">-30</text>
<text x="529.30" y="60.38" font-size="6.9" text-anchor="end" fill="#222" style="stroke:none">-20</text>
<text x="529.30" y="53.54" font-size="6.9" text-anchor="end" fill="#222" style="stroke:none">-10</text>
<text x="529.30" y="46.70" font-size="6.9" text-anchor="end" fill="#222" style="stroke:none">0</text>
<text x="529.30" y="39.86" font-size="6.9" text-anchor="end" fill="#222" style="stroke:none">10</text>
<text x="529.30" y="33.02" font-size="6.9" text-anchor="end" fill="#222" style="stroke:none">20</text>
<text x="529.30" y="26.18" font-size="6.9" text-anchor="end" fill="#222" style="stroke:none">30</text>
<text x="529.30" y="19.34" font-size="6.9" text-anchor="end" fill="#222" style="stroke:none">40</text>
<text x="537.00" y="12.00" font-size="6.7" text-anchor="start" fill="#222">ESI+</text>
<text x="556.60" y="5.30" font-size="6.7" text-anchor="start" fill="#222">R2X = 0.554</text>
<text x="607.30" y="5.30" font-size="6.7" text-anchor="start" fill="#222">Q2 = 0.365</text>
<text x="597.50" y="98.60" font-size="6.75" text-anchor="middle" fill="#222">t [1]</text>
<text x="514.20" y="46.40" font-size="6.75" text-anchor="middle" fill="#222" transform="rotate(-90 514.20 46.40)">t [2]</text>
<circle cx="535.30" cy="111.85" r="1.61" fill="#d8000c"/>
<text x="539.70" y="113.80" font-size="7.1" text-anchor="start" fill="#222">Qc</text>
<path d="M535.30 119.85L537.19 121.65L535.30 123.45L533.41 121.65Z" fill="#bbb" stroke="#000" stroke-width="1.03"/>
<text x="539.70" y="123.60" font-size="7.1" text-anchor="start" fill="#222">Group CC</text>
<path d="M600.50 109.90L602.55 113.31L598.45 113.31Z" fill="#ffa800"/>
<text x="604.40" y="113.80" font-size="7.1" text-anchor="start" fill="#222">Group CHG-r</text>
<path d="M600.50 123.60L602.55 120.19L598.45 120.19Z" fill="#15135a"/>
<text x="604.40" y="123.60" font-size="7.1" text-anchor="start" fill="#222">Group CWHG-r</text>
<text x="584.10" y="142.60" font-size="10.6" text-anchor="middle" fill="#222" style="stroke:none">(d)</text>
<circle cx="557.40" cy="44.60" r="1.40" fill="#d8000c"/>
<circle cx="560.70" cy="43.10" r="1.40" fill="#d8000c"/>
<circle cx="567.10" cy="42.40" r="1.40" fill="#d8000c"/>
<circle cx="569.90" cy="38.80" r="1.40" fill="#d8000c"/>
<circle cx="569.90" cy="40.90" r="1.40" fill="#d8000c"/>
<circle cx="575.70" cy="39.80" r="1.40" fill="#d8000c"/>
<path d="M616.00 48.35L617.65 50.00L616.00 51.65L614.35 50.00Z" fill="none" stroke="#000" stroke-width="1.10"/>
<path d="M604.50 50.75L606.15 52.40L604.50 54.05L602.85 52.40Z" fill="none" stroke="#000" stroke-width="1.10"/>
<path d="M605.90 49.75L607.55 51.40L605.90 53.05L604.25 51.40Z" fill="none" stroke="#000" stroke-width="1.10"/>
<path d="M605.70 56.95L607.35 58.60L605.70 60.25L604.05 58.60Z" fill="none" stroke="#000" stroke-width="1.10"/>
<path d="M607.40 56.05L609.05 57.70L607.40 59.35L605.75 57.70Z" fill="none" stroke="#000" stroke-width="1.10"/>
<path d="M611.50 55.15L613.15 56.80L611.50 58.45L609.85 56.80Z" fill="none" stroke="#000" stroke-width="1.10"/>
<path d="M615.80 34.92L617.77 38.21L613.83 38.21Z" fill="#ffa800"/>
<path d="M604.70 45.12L606.67 48.41L602.73 48.41Z" fill="#ffa800"/>
<path d="M609.00 46.83L610.97 50.11L607.03 50.11Z" fill="#ffa800"/>
<path d="M607.80 48.42L609.77 51.71L605.83 51.71Z" fill="#ffa800"/>
<path d="M600.40 50.33L602.37 53.61L598.43 53.61Z" fill="#ffa800"/>
<path d="M600.80 52.12L602.77 55.41L598.83 55.41Z" fill="#ffa800"/>
<path d="M611.20 15.20L613.09 12.05L609.31 12.05Z" fill="#15135a"/>
<path d="M621.30 28.30L623.19 25.15L619.41 25.15Z" fill="#15135a"/>
<path d="M614.80 36.70L616.69 33.55L612.91 33.55Z" fill="#15135a"/>
<path d="M614.40 42.70L616.29 39.55L612.51 39.55Z" fill="#15135a"/>
<path d="M611.60 44.20L613.49 41.05L609.71 41.05Z" fill="#15135a"/>
<path d="M613.30 47.50L615.19 44.35L611.41 44.35Z" fill="#15135a"/>
<ellipse cx="90.95" cy="198.60" rx="61.65" ry="31.40" fill="none" stroke="#000" stroke-width="1.1"/>
<line x1="25.50" y1="198.30" x2="155.50" y2="198.30" stroke="#000" stroke-width="1.0"/>
<line x1="90.80" y1="164.60" x2="90.80" y2="232.70" stroke="#000" stroke-width="1.0"/>
<line x1="25.50" y1="166.60" x2="25.50" y2="233.20" stroke="#111" stroke-width="1.1"/>
<path d="M24.55 167.40L25.50 164.40L26.45 167.40Z" fill="#111"/>
<line x1="25.00" y1="232.70" x2="154.00" y2="232.70" stroke="#111" stroke-width="1.1"/>
<path d="M153.20 231.75L156.00 232.70L153.20 233.65Z" fill="#111"/>
<line x1="26.30" y1="232.70" x2="26.30" y2="234.30" stroke="#111" stroke-width="0.9"/>
<line x1="37.05" y1="232.70" x2="37.05" y2="233.70" stroke="#111" stroke-width="0.9"/>
<line x1="47.80" y1="232.70" x2="47.80" y2="234.30" stroke="#111" stroke-width="0.9"/>
<line x1="58.55" y1="232.70" x2="58.55" y2="233.70" stroke="#111" stroke-width="0.9"/>
<line x1="69.30" y1="232.70" x2="69.30" y2="234.30" stroke="#111" stroke-width="0.9"/>
<line x1="80.05" y1="232.70" x2="80.05" y2="233.70" stroke="#111" stroke-width="0.9"/>
<line x1="90.80" y1="232.70" x2="90.80" y2="234.30" stroke="#111" stroke-width="0.9"/>
<line x1="101.55" y1="232.70" x2="101.55" y2="233.70" stroke="#111" stroke-width="0.9"/>
<line x1="112.30" y1="232.70" x2="112.30" y2="234.30" stroke="#111" stroke-width="0.9"/>
<line x1="123.05" y1="232.70" x2="123.05" y2="233.70" stroke="#111" stroke-width="0.9"/>
<line x1="133.80" y1="232.70" x2="133.80" y2="234.30" stroke="#111" stroke-width="0.9"/>
<line x1="144.55" y1="232.70" x2="144.55" y2="233.70" stroke="#111" stroke-width="0.9"/>
<text x="26.30" y="242.30" font-size="6.9" text-anchor="middle" fill="#222" style="stroke:none">-0.6</text>
<text x="47.80" y="242.30" font-size="6.9" text-anchor="middle" fill="#222" style="stroke:none">-0.4</text>
<text x="69.30" y="242.30" font-size="6.9" text-anchor="middle" fill="#222" style="stroke:none">-0.2</text>
<text x="90.80" y="242.30" font-size="6.9" text-anchor="middle" fill="#222" style="stroke:none">0</text>
<text x="112.30" y="242.30" font-size="6.9" text-anchor="middle" fill="#222" style="stroke:none">0.2</text>
<text x="133.80" y="242.30" font-size="6.9" text-anchor="middle" fill="#222" style="stroke:none">0.4</text>
<line x1="23.90" y1="233.22" x2="25.50" y2="233.22" stroke="#111" stroke-width="0.9"/>
<line x1="24.50" y1="228.86" x2="25.50" y2="228.86" stroke="#111" stroke-width="0.9"/>
<line x1="23.90" y1="224.49" x2="25.50" y2="224.49" stroke="#111" stroke-width="0.9"/>
<line x1="24.50" y1="220.12" x2="25.50" y2="220.12" stroke="#111" stroke-width="0.9"/>
<line x1="23.90" y1="215.76" x2="25.50" y2="215.76" stroke="#111" stroke-width="0.9"/>
<line x1="24.50" y1="211.40" x2="25.50" y2="211.40" stroke="#111" stroke-width="0.9"/>
<line x1="23.90" y1="207.03" x2="25.50" y2="207.03" stroke="#111" stroke-width="0.9"/>
<line x1="24.50" y1="202.67" x2="25.50" y2="202.67" stroke="#111" stroke-width="0.9"/>
<line x1="23.90" y1="198.30" x2="25.50" y2="198.30" stroke="#111" stroke-width="0.9"/>
<line x1="24.50" y1="193.94" x2="25.50" y2="193.94" stroke="#111" stroke-width="0.9"/>
<line x1="23.90" y1="189.57" x2="25.50" y2="189.57" stroke="#111" stroke-width="0.9"/>
<line x1="24.50" y1="185.21" x2="25.50" y2="185.21" stroke="#111" stroke-width="0.9"/>
<line x1="23.90" y1="180.84" x2="25.50" y2="180.84" stroke="#111" stroke-width="0.9"/>
<line x1="24.50" y1="176.48" x2="25.50" y2="176.48" stroke="#111" stroke-width="0.9"/>
<line x1="23.90" y1="172.11" x2="25.50" y2="172.11" stroke="#111" stroke-width="0.9"/>
<line x1="24.50" y1="167.75" x2="25.50" y2="167.75" stroke="#111" stroke-width="0.9"/>
<text x="21.20" y="235.42" font-size="6.9" text-anchor="end" fill="#222" style="stroke:none">-0.4</text>
<text x="21.20" y="226.69" font-size="6.9" text-anchor="end" fill="#222" style="stroke:none">-0.3</text>
<text x="21.20" y="217.96" font-size="6.9" text-anchor="end" fill="#222" style="stroke:none">-0.2</text>
<text x="21.20" y="209.23" font-size="6.9" text-anchor="end" fill="#222" style="stroke:none">-0.1</text>
<text x="21.20" y="200.50" font-size="6.9" text-anchor="end" fill="#222" style="stroke:none">0</text>
<text x="21.20" y="191.77" font-size="6.9" text-anchor="end" fill="#222" style="stroke:none">0.1</text>
<text x="21.20" y="183.04" font-size="6.9" text-anchor="end" fill="#222" style="stroke:none">0.2</text>
<text x="21.20" y="174.31" font-size="6.9" text-anchor="end" fill="#222" style="stroke:none">0.3</text>
<text x="28.60" y="164.60" font-size="6.7" text-anchor="start" fill="#222">ESI-</text>
<text x="46.30" y="159.30" font-size="6.7" text-anchor="start" fill="#222">R2X = 0.761</text>
<text x="101.90" y="159.30" font-size="6.7" text-anchor="start" fill="#222">Q2 = 0.894</text>
<text x="89.50" y="252.60" font-size="6.75" text-anchor="middle" fill="#222">1.00023 * t [1]</text>
<text x="6.00" y="199.20" font-size="6.75" text-anchor="middle" fill="#222" transform="rotate(-90 6.00 199.20)">1.00122 * t [2]</text>
<path d="M27.50 264.05L29.21 265.95L27.50 267.85L25.79 265.95Z" fill="#111"/>
<text x="32.00" y="267.90" font-size="7.1" text-anchor="start" fill="#222">Group C</text>
<path d="M27.50 274.45L28.76 276.55L26.24 276.55Z" fill="#ffa800"/>
<text x="32.00" y="277.60" font-size="7.1" text-anchor="start" fill="#222">Group HG-r</text>
<path d="M27.50 286.45L28.76 284.35L26.24 284.35Z" fill="#15135a"/>
<text x="32.00" y="287.20" font-size="7.1" text-anchor="start" fill="#222">Group WHG-r</text>
<text x="76.30" y="306.60" font-size="10.6" text-anchor="middle" fill="#222" style="stroke:none">(e)</text>
<path d="M75.40 183.15L76.82 185.51L73.98 185.51Z" fill="#ffa800"/>
<path d="M77.50 182.45L78.92 184.81L76.08 184.81Z" fill="#ffa800"/>
<path d="M78.60 181.85L80.02 184.21L77.18 184.21Z" fill="#ffa800"/>
<path d="M80.10 183.55L81.52 185.91L78.68 185.91Z" fill="#ffa800"/>
<path d="M81.80 184.85L83.22 187.21L80.38 187.21Z" fill="#ffa800"/>
<path d="M74.30 209.05L75.72 206.69L72.88 206.69Z" fill="#15135a"/>
<path d="M73.80 210.55L75.22 208.19L72.38 208.19Z" fill="#15135a"/>
<path d="M71.10 214.25L72.52 211.89L69.68 211.89Z" fill="#15135a"/>
<path d="M73.20 213.75L74.62 211.39L71.78 211.39Z" fill="#15135a"/>
<path d="M75.40 213.35L76.82 210.99L73.98 210.99Z" fill="#15135a"/>
<path d="M120.30 198.91L122.18 201.00L120.30 203.09L118.42 201.00Z" fill="#111"/>
<path d="M119.80 197.71L121.68 199.80L119.80 201.89L117.92 199.80Z" fill="#111"/>
<path d="M121.20 199.51L123.08 201.60L121.20 203.69L119.32 201.60Z" fill="#111"/>
<path d="M123.40 197.21L125.28 199.30L123.40 201.39L121.52 199.30Z" fill="#111"/>
<path d="M121.60 197.11L123.48 199.20L121.60 201.29L119.72 199.20Z" fill="#111"/>
<path d="M120.60 200.11L122.48 202.20L120.60 204.29L118.72 202.20Z" fill="#111"/>
<ellipse cx="260.20" cy="198.20" rx="52.40" ry="31.00" fill="none" stroke="#000" stroke-width="1.1"/>
<line x1="194.80" y1="198.30" x2="325.50" y2="198.30" stroke="#000" stroke-width="1.0"/>
<line x1="260.20" y1="164.60" x2="260.20" y2="232.70" stroke="#000" stroke-width="1.0"/>
<line x1="194.80" y1="166.60" x2="194.80" y2="233.20" stroke="#111" stroke-width="1.1"/>
<path d="M193.85 167.40L194.80 164.40L195.75 167.40Z" fill="#111"/>
<line x1="194.30" y1="232.70" x2="324.00" y2="232.70" stroke="#111" stroke-width="1.1"/>
<path d="M323.20 231.75L326.00 232.70L323.20 233.65Z" fill="#111"/>
<line x1="195.00" y1="232.70" x2="195.00" y2="234.30" stroke="#111" stroke-width="0.9"/>
<line x1="203.15" y1="232.70" x2="203.15" y2="233.70" stroke="#111" stroke-width="0.9"/>
<line x1="211.30" y1="232.70" x2="211.30" y2="234.30" stroke="#111" stroke-width="0.9"/>
<line x1="219.45" y1="232.70" x2="219.45" y2="233.70" stroke="#111" stroke-width="0.9"/>
<line x1="227.60" y1="232.70" x2="227.60" y2="234.30" stroke="#111" stroke-width="0.9"/>
<line x1="235.75" y1="232.70" x2="235.75" y2="233.70" stroke="#111" stroke-width="0.9"/>
<line x1="243.90" y1="232.70" x2="243.90" y2="234.30" stroke="#111" stroke-width="0.9"/>
<line x1="252.05" y1="232.70" x2="252.05" y2="233.70" stroke="#111" stroke-width="0.9"/>
<line x1="260.20" y1="232.70" x2="260.20" y2="234.30" stroke="#111" stroke-width="0.9"/>
<line x1="268.35" y1="232.70" x2="268.35" y2="233.70" stroke="#111" stroke-width="0.9"/>
<line x1="276.50" y1="232.70" x2="276.50" y2="234.30" stroke="#111" stroke-width="0.9"/>
<line x1="284.65" y1="232.70" x2="284.65" y2="233.70" stroke="#111" stroke-width="0.9"/>
<line x1="292.80" y1="232.70" x2="292.80" y2="234.30" stroke="#111" stroke-width="0.9"/>
<line x1="300.95" y1="232.70" x2="300.95" y2="233.70" stroke="#111" stroke-width="0.9"/>
<line x1="309.10" y1="232.70" x2="309.10" y2="234.30" stroke="#111" stroke-width="0.9"/>
<line x1="317.25" y1="232.70" x2="317.25" y2="233.70" stroke="#111" stroke-width="0.9"/>
<text x="195.00" y="242.30" font-size="6.9" text-anchor="middle" fill="#222" style="stroke:none">-0.8</text>
<text x="211.30" y="242.30" font-size="6.9" text-anchor="middle" fill="#222" style="stroke:none">-0.6</text>
<text x="227.60" y="242.30" font-size="6.9" text-anchor="middle" fill="#222" style="stroke:none">-0.4</text>
<text x="243.90" y="242.30" font-size="6.9" text-anchor="middle" fill="#222" style="stroke:none">-0.2</text>
<text x="260.20" y="242.30" font-size="6.9" text-anchor="middle" fill="#222" style="stroke:none">0</text>
<text x="276.50" y="242.30" font-size="6.9" text-anchor="middle" fill="#222" style="stroke:none">0.2</text>
<text x="292.80" y="242.30" font-size="6.9" text-anchor="middle" fill="#222" style="stroke:none">0.4</text>
<text x="309.10" y="242.30" font-size="6.9" text-anchor="middle" fill="#222" style="stroke:none">0.6</text>
<line x1="193.20" y1="232.80" x2="194.80" y2="232.80" stroke="#111" stroke-width="0.9"/>
<line x1="193.80" y1="227.05" x2="194.80" y2="227.05" stroke="#111" stroke-width="0.9"/>
<line x1="193.20" y1="221.30" x2="194.80" y2="221.30" stroke="#111" stroke-width="0.9"/>
<line x1="193.80" y1="215.55" x2="194.80" y2="215.55" stroke="#111" stroke-width="0.9"/>
<line x1="193.20" y1="209.80" x2="194.80" y2="209.80" stroke="#111" stroke-width="0.9"/>
<line x1="193.80" y1="204.05" x2="194.80" y2="204.05" stroke="#111" stroke-width="0.9"/>
<line x1="193.20" y1="198.30" x2="194.80" y2="198.30" stroke="#111" stroke-width="0.9"/>
<line x1="193.80" y1="192.55" x2="194.80" y2="192.55" stroke="#111" stroke-width="0.9"/>
<line x1="193.20" y1="186.80" x2="194.80" y2="186.80" stroke="#111" stroke-width="0.9"/>
<line x1="193.80" y1="181.05" x2="194.80" y2="181.05" stroke="#111" stroke-width="0.9"/>
<line x1="193.20" y1="175.30" x2="194.80" y2="175.30" stroke="#111" stroke-width="0.9"/>
<line x1="193.80" y1="169.55" x2="194.80" y2="169.55" stroke="#111" stroke-width="0.9"/>
<text x="190.50" y="235.00" font-size="6.9" text-anchor="end" fill="#222" style="stroke:none">-0.6</text>
<text x="190.50" y="223.50" font-size="6.9" text-anchor="end" fill="#222" style="stroke:none">-0.4</text>
<text x="190.50" y="212.00" font-size="6.9" text-anchor="end" fill="#222" style="stroke:none">-0.2</text>
<text x="190.50" y="200.50" font-size="6.9" text-anchor="end" fill="#222" style="stroke:none">0</text>
<text x="190.50" y="189.00" font-size="6.9" text-anchor="end" fill="#222" style="stroke:none">0.2</text>
<text x="190.50" y="177.50" font-size="6.9" text-anchor="end" fill="#222" style="stroke:none">0.4</text>
<text x="197.70" y="165.00" font-size="6.7" text-anchor="start" fill="#222">ESI+</text>
<text x="218.20" y="159.30" font-size="6.7" text-anchor="start" fill="#222">R2X = 0.660</text>
<text x="268.40" y="159.30" font-size="6.7" text-anchor="start" fill="#222">Q2 = 0.870</text>
<text x="258.50" y="252.60" font-size="6.75" text-anchor="middle" fill="#222">1.01411 * t [1]</text>
<text x="175.60" y="199.20" font-size="6.75" text-anchor="middle" fill="#222" transform="rotate(-90 175.60 199.20)">1.00672 * t [2]</text>
<path d="M196.90 264.05L198.61 265.95L196.90 267.85L195.19 265.95Z" fill="#111"/>
<text x="201.30" y="267.90" font-size="7.1" text-anchor="start" fill="#222">Group C</text>
<path d="M196.90 274.45L198.16 276.55L195.64 276.55Z" fill="#ffa800"/>
<text x="201.30" y="277.60" font-size="7.1" text-anchor="start" fill="#222">Group HG-r</text>
<path d="M196.90 286.45L198.16 284.35L195.64 284.35Z" fill="#15135a"/>
<text x="201.30" y="287.20" font-size="7.1" text-anchor="start" fill="#222">Group WHG-r</text>
<text x="245.90" y="306.20" font-size="10.6" text-anchor="middle" fill="#222" style="stroke:none">(f)</text>
<path d="M252.50 179.80L254.21 181.70L252.50 183.60L250.79 181.70Z" fill="#111"/>
<path d="M261.10 178.20L262.81 180.10L261.10 182.00L259.39 180.10Z" fill="#111"/>
<path d="M257.20 185.10L258.91 187.00L257.20 188.90L255.49 187.00Z" fill="#111"/>
<path d="M262.60 182.10L264.31 184.00L262.60 185.90L260.89 184.00Z" fill="#111"/>
<path d="M264.80 180.80L266.51 182.70L264.80 184.60L263.09 182.70Z" fill="#111"/>
<path d="M265.40 183.00L267.11 184.90L265.40 186.80L263.69 184.90Z" fill="#111"/>
<path d="M275.50 202.95L276.92 205.31L274.08 205.31Z" fill="#ffa800"/>
<path d="M277.70 204.25L279.12 206.61L276.28 206.61Z" fill="#ffa800"/>
<path d="M281.60 202.45L283.02 204.81L280.18 204.81Z" fill="#ffa800"/>
<path d="M291.00 201.45L292.42 203.81L289.58 203.81Z" fill="#ffa800"/>
<path d="M280.90 207.25L282.32 209.61L279.48 209.61Z" fill="#ffa800"/>
<path d="M272.70 210.45L274.12 212.81L271.28 212.81Z" fill="#ffa800"/>
<path d="M216.20 205.15L217.62 202.79L214.78 202.79Z" fill="#15135a"/>
<path d="M235.60 209.05L237.02 206.69L234.18 206.69Z" fill="#15135a"/>
<path d="M242.50 211.25L243.92 208.89L241.08 208.89Z" fill="#15135a"/>
<path d="M243.00 204.15L244.42 201.79L241.58 201.79Z" fill="#15135a"/>
<path d="M249.00 207.75L250.42 205.39L247.58 205.39Z" fill="#15135a"/>
<path d="M252.90 202.35L254.32 199.99L251.48 199.99Z" fill="#15135a"/>
<ellipse cx="429.55" cy="198.70" rx="59.05" ry="27.50" fill="none" stroke="#000" stroke-width="1.1"/>
<line x1="364.20" y1="198.30" x2="494.50" y2="198.30" stroke="#000" stroke-width="1.0"/>
<line x1="429.60" y1="164.60" x2="429.60" y2="232.70" stroke="#000" stroke-width="1.0"/>
<line x1="364.20" y1="166.60" x2="364.20" y2="233.20" stroke="#111" stroke-width="1.1"/>
<path d="M363.25 167.40L364.20 164.40L365.15 167.40Z" fill="#111"/>
<line x1="363.70" y1="232.70" x2="493.00" y2="232.70" stroke="#111" stroke-width="1.1"/>
<path d="M492.20 231.75L495.00 232.70L492.20 233.65Z" fill="#111"/>
<line x1="365.30" y1="232.70" x2="365.30" y2="234.30" stroke="#111" stroke-width="0.9"/>
<line x1="371.73" y1="232.70" x2="371.73" y2="233.70" stroke="#111" stroke-width="0.9"/>
<line x1="378.16" y1="232.70" x2="378.16" y2="234.30" stroke="#111" stroke-width="0.9"/>
<line x1="384.59" y1="232.70" x2="384.59" y2="233.70" stroke="#111" stroke-width="0.9"/>
<line x1="391.02" y1="232.70" x2="391.02" y2="234.30" stroke="#111" stroke-width="0.9"/>
<line x1="397.45" y1="232.70" x2="397.45" y2="233.70" stroke="#111" stroke-width="0.9"/>
<line x1="403.88" y1="232.70" x2="403.88" y2="234.30" stroke="#111" stroke-width="0.9"/>
<line x1="410.31" y1="232.70" x2="410.31" y2="233.70" stroke="#111" stroke-width="0.9"/>
<line x1="416.74" y1="232.70" x2="416.74" y2="234.30" stroke="#111" stroke-width="0.9"/>
<line x1="423.17" y1="232.70" x2="423.17" y2="233.70" stroke="#111" stroke-width="0.9"/>
<line x1="429.60" y1="232.70" x2="429.60" y2="234.30" stroke="#111" stroke-width="0.9"/>
<line x1="436.03" y1="232.70" x2="436.03" y2="233.70" stroke="#111" stroke-width="0.9"/>
<line x1="442.46" y1="232.70" x2="442.46" y2="234.30" stroke="#111" stroke-width="0.9"/>
<line x1="448.89" y1="232.70" x2="448.89" y2="233.70" stroke="#111" stroke-width="0.9"/>
<line x1="455.32" y1="232.70" x2="455.32" y2="234.30" stroke="#111" stroke-width="0.9"/>
<line x1="461.75" y1="232.70" x2="461.75" y2="233.70" stroke="#111" stroke-width="0.9"/>
<line x1="468.18" y1="232.70" x2="468.18" y2="234.30" stroke="#111" stroke-width="0.9"/>
<line x1="474.61" y1="232.70" x2="474.61" y2="233.70" stroke="#111" stroke-width="0.9"/>
<line x1="481.04" y1="232.70" x2="481.04" y2="234.30" stroke="#111" stroke-width="0.9"/>
<line x1="487.47" y1="232.70" x2="487.47" y2="233.70" stroke="#111" stroke-width="0.9"/>
<text x="365.30" y="242.30" font-size="6.9" text-anchor="middle" fill="#222" style="stroke:none">-0.5</text>
<text x="378.16" y="242.30" font-size="6.9" text-anchor="middle" fill="#222" style="stroke:none">-0.4</text>
<text x="391.02" y="242.30" font-size="6.9" text-anchor="middle" fill="#222" style="stroke:none">-0.3</text>
<text x="403.88" y="242.30" font-size="6.9" text-anchor="middle" fill="#222" style="stroke:none">-0.2</text>
<text x="416.74" y="242.30" font-size="6.9" text-anchor="middle" fill="#222" style="stroke:none">-0.1</text>
<text x="429.60" y="242.30" font-size="6.9" text-anchor="middle" fill="#222" style="stroke:none">0</text>
<text x="442.46" y="242.30" font-size="6.9" text-anchor="middle" fill="#222" style="stroke:none">0.1</text>
<text x="455.32" y="242.30" font-size="6.9" text-anchor="middle" fill="#222" style="stroke:none">0.2</text>
<text x="468.18" y="242.30" font-size="6.9" text-anchor="middle" fill="#222" style="stroke:none">0.3</text>
<text x="481.04" y="242.30" font-size="6.9" text-anchor="middle" fill="#222" style="stroke:none">0.4</text>
<line x1="362.60" y1="233.50" x2="364.20" y2="233.50" stroke="#111" stroke-width="0.9"/>
<line x1="363.20" y1="229.10" x2="364.20" y2="229.10" stroke="#111" stroke-width="0.9"/>
<line x1="362.60" y1="224.70" x2="364.20" y2="224.70" stroke="#111" stroke-width="0.9"/>
<line x1="363.20" y1="220.30" x2="364.20" y2="220.30" stroke="#111" stroke-width="0.9"/>
<line x1="362.60" y1="215.90" x2="364.20" y2="215.90" stroke="#111" stroke-width="0.9"/>
<line x1="363.20" y1="211.50" x2="364.20" y2="211.50" stroke="#111" stroke-width="0.9"/>
<line x1="362.60" y1="207.10" x2="364.20" y2="207.10" stroke="#111" stroke-width="0.9"/>
<line x1="363.20" y1="202.70" x2="364.20" y2="202.70" stroke="#111" stroke-width="0.9"/>
<line x1="362.60" y1="198.30" x2="364.20" y2="198.30" stroke="#111" stroke-width="0.9"/>
<line x1="363.20" y1="193.90" x2="364.20" y2="193.90" stroke="#111" stroke-width="0.9"/>
<line x1="362.60" y1="189.50" x2="364.20" y2="189.50" stroke="#111" stroke-width="0.9"/>
<line x1="363.20" y1="185.10" x2="364.20" y2="185.10" stroke="#111" stroke-width="0.9"/>
<line x1="362.60" y1="180.70" x2="364.20" y2="180.70" stroke="#111" stroke-width="0.9"/>
<line x1="363.20" y1="176.30" x2="364.20" y2="176.30" stroke="#111" stroke-width="0.9"/>
<line x1="362.60" y1="171.90" x2="364.20" y2="171.90" stroke="#111" stroke-width="0.9"/>
<text x="359.90" y="235.70" font-size="6.9" text-anchor="end" fill="#222" style="stroke:none">-0.4</text>
<text x="359.90" y="226.90" font-size="6.9" text-anchor="end" fill="#222" style="stroke:none">-0.3</text>
<text x="359.90" y="218.10" font-size="6.9" text-anchor="end" fill="#222" style="stroke:none">-0.2</text>
<text x="359.90" y="209.30" font-size="6.9" text-anchor="end" fill="#222" style="stroke:none">-0.1</text>
<text x="359.90" y="200.50" font-size="6.9" text-anchor="end" fill="#222" style="stroke:none">0</text>
<text x="359.90" y="191.70" font-size="6.9" text-anchor="end" fill="#222" style="stroke:none">0.1</text>
<text x="359.90" y="182.90" font-size="6.9" text-anchor="end" fill="#222" style="stroke:none">0.2</text>
<text x="359.90" y="174.10" font-size="6.9" text-anchor="end" fill="#222" style="stroke:none">0.3</text>
<text x="367.70" y="165.00" font-size="6.7" text-anchor="start" fill="#222">ESI-</text>
<text x="388.60" y="159.30" font-size="6.7" text-anchor="start" fill="#222">R2X = 0.750</text>
<text x="435.60" y="159.30" font-size="6.7" text-anchor="start" fill="#222">Q2 = 0.667</text>
<text x="428.40" y="252.60" font-size="6.75" text-anchor="middle" fill="#222">1.00048 * t [1]</text>
<text x="344.80" y="199.20" font-size="6.75" text-anchor="middle" fill="#222" transform="rotate(-90 344.80 199.20)">1.00336 * t [2]</text>
<path d="M366.50 264.15L368.39 265.95L366.50 267.75L364.61 265.95Z" fill="#bbb" stroke="#000" stroke-width="1.03"/>
<text x="370.40" y="267.90" font-size="7.1" text-anchor="start" fill="#222">Group CC</text>
<path d="M366.50 273.70L368.55 277.11L364.45 277.11Z" fill="#ffa800"/>
<text x="370.40" y="277.60" font-size="7.1" text-anchor="start" fill="#222">Group CHG-r</text>
<path d="M366.50 287.20L368.55 283.79L364.45 283.79Z" fill="#15135a"/>
<text x="370.40" y="287.20" font-size="7.1" text-anchor="start" fill="#222">Group CHWG-r</text>
<text x="415.00" y="306.60" font-size="10.6" text-anchor="middle" fill="#222" style="stroke:none">(g)</text>
<path d="M400.50 203.15L402.15 204.80L400.50 206.45L398.85 204.80Z" fill="none" stroke="#000" stroke-width="1.10"/>
<path d="M402.00 203.85L403.65 205.50L402.00 207.15L400.35 205.50Z" fill="none" stroke="#000" stroke-width="1.10"/>
<path d="M403.50 202.85L405.15 204.50L403.50 206.15L401.85 204.50Z" fill="none" stroke="#000" stroke-width="1.10"/>
<path d="M405.50 202.15L407.15 203.80L405.50 205.45L403.85 203.80Z" fill="none" stroke="#000" stroke-width="1.10"/>
<path d="M407.20 203.95L408.85 205.60L407.20 207.25L405.55 205.60Z" fill="none" stroke="#000" stroke-width="1.10"/>
<path d="M399.50 203.60L401.21 205.50L399.50 207.40L397.79 205.50Z" fill="#111"/>
<path d="M401.00 203.10L402.71 205.00L401.00 206.90L399.29 205.00Z" fill="#111"/>
<path d="M426.10 181.72L428.07 185.01L424.13 185.01Z" fill="#ffa800"/>
<path d="M428.90 183.82L430.87 187.11L426.93 187.11Z" fill="#ffa800"/>
<path d="M431.00 181.03L432.97 184.31L429.03 184.31Z" fill="#ffa800"/>
<path d="M433.70 181.72L435.67 185.01L431.73 185.01Z" fill="#ffa800"/>
<path d="M433.40 188.53L435.37 191.81L431.43 191.81Z" fill="#ffa800"/>
<path d="M452.40 204.70L454.29 201.55L450.51 201.55Z" fill="#15135a"/>
<path d="M454.60 204.30L456.49 201.15L452.71 201.15Z" fill="#15135a"/>
<path d="M456.70 206.50L458.59 203.35L454.81 203.35Z" fill="#15135a"/>
<path d="M451.80 207.90L453.69 204.75L449.91 204.75Z" fill="#15135a"/>
<path d="M455.50 210.20L457.39 207.05L453.61 207.05Z" fill="#15135a"/>
<path d="M453.40 208.40L455.29 205.25L451.51 205.25Z" fill="#15135a"/>
<ellipse cx="598.60" cy="198.20" rx="58.90" ry="33.10" fill="none" stroke="#000" stroke-width="1.1"/>
<line x1="533.50" y1="198.30" x2="663.50" y2="198.30" stroke="#000" stroke-width="1.0"/>
<line x1="598.60" y1="164.60" x2="598.60" y2="232.70" stroke="#000" stroke-width="1.0"/>
<line x1="533.50" y1="166.60" x2="533.50" y2="233.20" stroke="#111" stroke-width="1.1"/>
<path d="M532.55 167.40L533.50 164.40L534.45 167.40Z" fill="#111"/>
<line x1="533.00" y1="232.70" x2="662.00" y2="232.70" stroke="#111" stroke-width="1.1"/>
<path d="M661.20 231.75L664.00 232.70L661.20 233.65Z" fill="#111"/>
<line x1="532.90" y1="232.70" x2="532.90" y2="234.30" stroke="#111" stroke-width="0.9"/>
<line x1="543.85" y1="232.70" x2="543.85" y2="233.70" stroke="#111" stroke-width="0.9"/>
<line x1="554.80" y1="232.70" x2="554.80" y2="234.30" stroke="#111" stroke-width="0.9"/>
<line x1="565.75" y1="232.70" x2="565.75" y2="233.70" stroke="#111" stroke-width="0.9"/>
<line x1="576.70" y1="232.70" x2="576.70" y2="234.30" stroke="#111" stroke-width="0.9"/>
<line x1="587.65" y1="232.70" x2="587.65" y2="233.70" stroke="#111" stroke-width="0.9"/>
<line x1="598.60" y1="232.70" x2="598.60" y2="234.30" stroke="#111" stroke-width="0.9"/>
<line x1="609.55" y1="232.70" x2="609.55" y2="233.70" stroke="#111" stroke-width="0.9"/>
<line x1="620.50" y1="232.70" x2="620.50" y2="234.30" stroke="#111" stroke-width="0.9"/>
<line x1="631.45" y1="232.70" x2="631.45" y2="233.70" stroke="#111" stroke-width="0.9"/>
<line x1="642.40" y1="232.70" x2="642.40" y2="234.30" stroke="#111" stroke-width="0.9"/>
<line x1="653.35" y1="232.70" x2="653.35" y2="233.70" stroke="#111" stroke-width="0.9"/>
<text x="532.90" y="242.30" font-size="6.9" text-anchor="middle" fill="#222" style="stroke:none">-0.6</text>
<text x="554.80" y="242.30" font-size="6.9" text-anchor="middle" fill="#222" style="stroke:none">-0.4</text>
<text x="576.70" y="242.30" font-size="6.9" text-anchor="middle" fill="#222" style="stroke:none">-0.2</text>
<text x="598.60" y="242.30" font-size="6.9" text-anchor="middle" fill="#222" style="stroke:none">0</text>
<text x="620.50" y="242.30" font-size="6.9" text-anchor="middle" fill="#222" style="stroke:none">0.2</text>
<text x="642.40" y="242.30" font-size="6.9" text-anchor="middle" fill="#222" style="stroke:none">0.4</text>
<line x1="531.90" y1="233.50" x2="533.50" y2="233.50" stroke="#111" stroke-width="0.9"/>
<line x1="532.50" y1="229.10" x2="533.50" y2="229.10" stroke="#111" stroke-width="0.9"/>
<line x1="531.90" y1="224.70" x2="533.50" y2="224.70" stroke="#111" stroke-width="0.9"/>
<line x1="532.50" y1="220.30" x2="533.50" y2="220.30" stroke="#111" stroke-width="0.9"/>
<line x1="531.90" y1="215.90" x2="533.50" y2="215.90" stroke="#111" stroke-width="0.9"/>
<line x1="532.50" y1="211.50" x2="533.50" y2="211.50" stroke="#111" stroke-width="0.9"/>
<line x1="531.90" y1="207.10" x2="533.50" y2="207.10" stroke="#111" stroke-width="0.9"/>
<line x1="532.50" y1="202.70" x2="533.50" y2="202.70" stroke="#111" stroke-width="0.9"/>
<line x1="531.90" y1="198.30" x2="533.50" y2="198.30" stroke="#111" stroke-width="0.9"/>
<line x1="532.50" y1="193.90" x2="533.50" y2="193.90" stroke="#111" stroke-width="0.9"/>
<line x1="531.90" y1="189.50" x2="533.50" y2="189.50" stroke="#111" stroke-width="0.9"/>
<line x1="532.50" y1="185.10" x2="533.50" y2="185.10" stroke="#111" stroke-width="0.9"/>
<line x1="531.90" y1="180.70" x2="533.50" y2="180.70" stroke="#111" stroke-width="0.9"/>
<line x1="532.50" y1="176.30" x2="533.50" y2="176.30" stroke="#111" stroke-width="0.9"/>
<line x1="531.90" y1="171.90" x2="533.50" y2="171.90" stroke="#111" stroke-width="0.9"/>
<text x="529.20" y="235.70" font-size="6.9" text-anchor="end" fill="#222" style="stroke:none">-0.4</text>
<text x="529.20" y="226.90" font-size="6.9" text-anchor="end" fill="#222" style="stroke:none">-0.3</text>
<text x="529.20" y="218.10" font-size="6.9" text-anchor="end" fill="#222" style="stroke:none">-0.2</text>
<text x="529.20" y="209.30" font-size="6.9" text-anchor="end" fill="#222" style="stroke:none">-0.1</text>
<text x="529.20" y="200.50" font-size="6.9" text-anchor="end" fill="#222" style="stroke:none">0</text>
<text x="529.20" y="191.70" font-size="6.9" text-anchor="end" fill="#222" style="stroke:none">0.1</text>
<text x="529.20" y="182.90" font-size="6.9" text-anchor="end" fill="#222" style="stroke:none">0.2</text>
<text x="529.20" y="174.10" font-size="6.9" text-anchor="end" fill="#222" style="stroke:none">0.3</text>
<text x="536.30" y="165.00" font-size="6.7" text-anchor="start" fill="#222">ESI+</text>
<text x="553.80" y="159.30" font-size="6.7" text-anchor="start" fill="#222">R2X = 0.785</text>
<text x="609.50" y="159.30" font-size="6.7" text-anchor="start" fill="#222">Q2 = 0.532</text>
<text x="597.50" y="252.60" font-size="6.75" text-anchor="middle" fill="#222">1.00102 * t [1]</text>
<text x="514.20" y="199.20" font-size="6.75" text-anchor="middle" fill="#222" transform="rotate(-90 514.20 199.20)">1.00928 * t [2]</text>
<path d="M535.30 264.15L537.19 265.95L535.30 267.75L533.41 265.95Z" fill="#bbb" stroke="#000" stroke-width="1.03"/>
<text x="539.70" y="267.90" font-size="7.1" text-anchor="start" fill="#222">Group CC</text>
<path d="M535.30 273.70L537.35 277.11L533.25 277.11Z" fill="#ffa800"/>
<text x="539.70" y="277.60" font-size="7.1" text-anchor="start" fill="#222">Group CHG-r</text>
<path d="M535.30 287.20L537.35 283.79L533.25 283.79Z" fill="#15135a"/>
<text x="539.70" y="287.20" font-size="7.1" text-anchor="start" fill="#222">Group CHWG-r</text>
<text x="584.50" y="306.60" font-size="10.6" text-anchor="middle" fill="#222" style="stroke:none">(h)</text>
<path d="M601.60 181.65L603.25 183.30L601.60 184.95L599.95 183.30Z" fill="none" stroke="#000" stroke-width="1.10"/>
<path d="M603.80 180.65L605.45 182.30L603.80 183.95L602.15 182.30Z" fill="none" stroke="#000" stroke-width="1.10"/>
<path d="M606.30 179.95L607.95 181.60L606.30 183.25L604.65 181.60Z" fill="none" stroke="#000" stroke-width="1.10"/>
<path d="M608.30 179.55L609.95 181.20L608.30 182.85L606.65 181.20Z" fill="none" stroke="#000" stroke-width="1.10"/>
<path d="M608.20 187.55L609.85 189.20L608.20 190.85L606.55 189.20Z" fill="none" stroke="#000" stroke-width="1.10"/>
<path d="M609.60 179.00L611.31 180.90L609.60 182.80L607.89 180.90Z" fill="#111"/>
<path d="M566.50 198.93L568.47 202.21L564.53 202.21Z" fill="#ffa800"/>
<path d="M568.60 198.93L570.57 202.21L566.63 202.21Z" fill="#ffa800"/>
<path d="M567.20 200.72L569.17 204.01L565.23 204.01Z" fill="#ffa800"/>
<path d="M566.60 202.72L568.57 206.01L564.63 206.01Z" fill="#ffa800"/>
<path d="M569.30 206.43L571.27 209.71L567.33 209.71Z" fill="#ffa800"/>
<path d="M577.70 197.22L579.67 200.51L575.73 200.51Z" fill="#ffa800"/>
<path d="M581.90 201.43L583.87 204.71L579.93 204.71Z" fill="#ffa800"/>
<path d="M610.50 207.10L612.39 203.95L608.61 203.95Z" fill="#15135a"/>
<path d="M615.90 209.90L617.79 206.75L614.01 206.75Z" fill="#15135a"/>
<path d="M618.10 210.60L619.99 207.45L616.21 207.45Z" fill="#15135a"/>
<path d="M619.10 212.50L620.99 209.35L617.21 209.35Z" fill="#15135a"/>
<path d="M620.20 214.20L622.09 211.05L618.31 211.05Z" fill="#15135a"/>
<path d="M620.60 216.00L622.49 212.85L618.71 212.85Z" fill="#15135a"/>
<path d="M626.70 210.60L628.59 207.45L624.81 207.45Z" fill="#15135a"/>
<ellipse cx="90.90" cy="363.05" rx="53.70" ry="29.95" fill="none" stroke="#000" stroke-width="1.1"/>
<line x1="25.50" y1="363.10" x2="155.90" y2="363.10" stroke="#000" stroke-width="1.0"/>
<line x1="90.60" y1="328.70" x2="90.60" y2="397.30" stroke="#000" stroke-width="1.0"/>
<line x1="25.50" y1="330.70" x2="25.50" y2="397.80" stroke="#111" stroke-width="1.1"/>
<path d="M24.55 331.50L25.50 328.50L26.45 331.50Z" fill="#111"/>
<line x1="25.00" y1="397.30" x2="154.40" y2="397.30" stroke="#111" stroke-width="1.1"/>
<path d="M153.60 396.35L156.40 397.30L153.60 398.25Z" fill="#111"/>
<line x1="26.20" y1="397.30" x2="26.20" y2="398.90" stroke="#111" stroke-width="0.9"/>
<line x1="34.25" y1="397.30" x2="34.25" y2="398.30" stroke="#111" stroke-width="0.9"/>
<line x1="42.30" y1="397.30" x2="42.30" y2="398.90" stroke="#111" stroke-width="0.9"/>
<line x1="50.35" y1="397.30" x2="50.35" y2="398.30" stroke="#111" stroke-width="0.9"/>
<line x1="58.40" y1="397.30" x2="58.40" y2="398.90" stroke="#111" stroke-width="0.9"/>
<line x1="66.45" y1="397.30" x2="66.45" y2="398.30" stroke="#111" stroke-width="0.9"/>
<line x1="74.50" y1="397.30" x2="74.50" y2="398.90" stroke="#111" stroke-width="0.9"/>
<line x1="82.55" y1="397.30" x2="82.55" y2="398.30" stroke="#111" stroke-width="0.9"/>
<line x1="90.60" y1="397.30" x2="90.60" y2="398.90" stroke="#111" stroke-width="0.9"/>
<line x1="98.65" y1="397.30" x2="98.65" y2="398.30" stroke="#111" stroke-width="0.9"/>
<line x1="106.70" y1="397.30" x2="106.70" y2="398.90" stroke="#111" stroke-width="0.9"/>
<line x1="114.75" y1="397.30" x2="114.75" y2="398.30" stroke="#111" stroke-width="0.9"/>
<line x1="122.80" y1="397.30" x2="122.80" y2="398.90" stroke="#111" stroke-width="0.9"/>
<line x1="130.85" y1="397.30" x2="130.85" y2="398.30" stroke="#111" stroke-width="0.9"/>
<line x1="138.90" y1="397.30" x2="138.90" y2="398.90" stroke="#111" stroke-width="0.9"/>
<line x1="146.95" y1="397.30" x2="146.95" y2="398.30" stroke="#111" stroke-width="0.9"/>
<text x="26.20" y="406.70" font-size="6.9" text-anchor="middle" fill="#222" style="stroke:none">-0.8</text>
<text x="42.30" y="406.70" font-size="6.9" text-anchor="middle" fill="#222" style="stroke:none">-0.6</text>
<text x="58.40" y="406.70" font-size="6.9" text-anchor="middle" fill="#222" style="stroke:none">-0.4</text>
<text x="74.50" y="406.70" font-size="6.9" text-anchor="middle" fill="#222" style="stroke:none">-0.2</text>
<text x="90.60" y="406.70" font-size="6.9" text-anchor="middle" fill="#222" style="stroke:none">0</text>
<text x="106.70" y="406.70" font-size="6.9" text-anchor="middle" fill="#222" style="stroke:none">0.2</text>
<text x="122.80" y="406.70" font-size="6.9" text-anchor="middle" fill="#222" style="stroke:none">0.4</text>
<text x="138.90" y="406.70" font-size="6.9" text-anchor="middle" fill="#222" style="stroke:none">0.6</text>
<line x1="23.90" y1="397.60" x2="25.50" y2="397.60" stroke="#111" stroke-width="0.9"/>
<line x1="24.50" y1="394.15" x2="25.50" y2="394.15" stroke="#111" stroke-width="0.9"/>
<line x1="23.90" y1="390.70" x2="25.50" y2="390.70" stroke="#111" stroke-width="0.9"/>
<line x1="24.50" y1="387.25" x2="25.50" y2="387.25" stroke="#111" stroke-width="0.9"/>
<line x1="23.90" y1="383.80" x2="25.50" y2="383.80" stroke="#111" stroke-width="0.9"/>
<line x1="24.50" y1="380.35" x2="25.50" y2="380.35" stroke="#111" stroke-width="0.9"/>
<line x1="23.90" y1="376.90" x2="25.50" y2="376.90" stroke="#111" stroke-width="0.9"/>
<line x1="24.50" y1="373.45" x2="25.50" y2="373.45" stroke="#111" stroke-width="0.9"/>
<line x1="23.90" y1="370.00" x2="25.50" y2="370.00" stroke="#111" stroke-width="0.9"/>
<line x1="24.50" y1="366.55" x2="25.50" y2="366.55" stroke="#111" stroke-width="0.9"/>
<line x1="23.90" y1="363.10" x2="25.50" y2="363.10" stroke="#111" stroke-width="0.9"/>
<line x1="24.50" y1="359.65" x2="25.50" y2="359.65" stroke="#111" stroke-width="0.9"/>
<line x1="23.90" y1="356.20" x2="25.50" y2="356.20" stroke="#111" stroke-width="0.9"/>
<line x1="24.50" y1="352.75" x2="25.50" y2="352.75" stroke="#111" stroke-width="0.9"/>
<line x1="23.90" y1="349.30" x2="25.50" y2="349.30" stroke="#111" stroke-width="0.9"/>
<line x1="24.50" y1="345.85" x2="25.50" y2="345.85" stroke="#111" stroke-width="0.9"/>
<line x1="23.90" y1="342.40" x2="25.50" y2="342.40" stroke="#111" stroke-width="0.9"/>
<line x1="24.50" y1="338.95" x2="25.50" y2="338.95" stroke="#111" stroke-width="0.9"/>
<line x1="23.90" y1="335.50" x2="25.50" y2="335.50" stroke="#111" stroke-width="0.9"/>
<line x1="24.50" y1="332.05" x2="25.50" y2="332.05" stroke="#111" stroke-width="0.9"/>
<text x="21.20" y="399.80" font-size="6.9" text-anchor="end" fill="#222" style="stroke:none">-0.5</text>
<text x="21.20" y="392.90" font-size="6.9" text-anchor="end" fill="#222" style="stroke:none">-0.4</text>
<text x="21.20" y="386.00" font-size="6.9" text-anchor="end" fill="#222" style="stroke:none">-0.3</text>
<text x="21.20" y="379.10" font-size="6.9" text-anchor="end" fill="#222" style="stroke:none">-0.2</text>
<text x="21.20" y="372.20" font-size="6.9" text-anchor="end" fill="#222" style="stroke:none">-0.1</text>
<text x="21.20" y="365.30" font-size="6.9" text-anchor="end" fill="#222" style="stroke:none">0</text>
<text x="21.20" y="358.40" font-size="6.9" text-anchor="end" fill="#222" style="stroke:none">0.1</text>
<text x="21.20" y="351.50" font-size="6.9" text-anchor="end" fill="#222" style="stroke:none">0.2</text>
<text x="21.20" y="344.60" font-size="6.9" text-anchor="end" fill="#222" style="stroke:none">0.3</text>
<text x="21.20" y="337.70" font-size="6.9" text-anchor="end" fill="#222" style="stroke:none">0.4</text>
<text x="29.10" y="329.30" font-size="6.7" text-anchor="start" fill="#222">ESI-</text>
<text x="49.10" y="324.00" font-size="6.7" text-anchor="start" fill="#222">R2X = 0.420</text>
<text x="99.10" y="324.00" font-size="6.7" text-anchor="start" fill="#222">Q2 = 0.889</text>
<text x="89.80" y="417.80" font-size="6.75" text-anchor="middle" fill="#222">1.00132 * t [1]</text>
<text x="6.00" y="364.30" font-size="6.75" text-anchor="middle" fill="#222" transform="rotate(-90 6.00 364.30)">1.14725 * to [1]</text>
<path d="M27.50 428.55L29.21 430.45L27.50 432.35L25.79 430.45Z" fill="#111"/>
<text x="32.00" y="432.40" font-size="7.1" text-anchor="start" fill="#222">Group C</text>
<path d="M27.50 438.95L28.76 441.05L26.24 441.05Z" fill="#ffa800"/>
<text x="32.00" y="442.10" font-size="7.1" text-anchor="start" fill="#222">Group HG-r</text>
<text x="76.60" y="461.00" font-size="10.6" text-anchor="middle" fill="#222" style="stroke:none">(i)</text>
<path d="M72.10 348.30L73.81 350.20L72.10 352.10L70.39 350.20Z" fill="#111"/>
<path d="M75.80 347.20L77.51 349.10L75.80 351.00L74.09 349.10Z" fill="#111"/>
<path d="M74.30 360.80L76.01 362.70L74.30 364.60L72.59 362.70Z" fill="#111"/>
<path d="M73.20 363.00L74.91 364.90L73.20 366.80L71.49 364.90Z" fill="#111"/>
<path d="M75.40 363.00L77.11 364.90L75.40 366.80L73.69 364.90Z" fill="#111"/>
<path d="M71.70 384.50L73.41 386.40L71.70 388.30L69.99 386.40Z" fill="#111"/>
<path d="M105.10 357.05L106.52 359.41L103.68 359.41Z" fill="#ffa800"/>
<path d="M106.90 357.95L108.32 360.31L105.48 360.31Z" fill="#ffa800"/>
<path d="M108.40 356.85L109.82 359.21L106.98 359.21Z" fill="#ffa800"/>
<path d="M109.50 357.45L110.92 359.81L108.08 359.81Z" fill="#ffa800"/>
<path d="M106.20 362.85L107.62 365.21L104.78 365.21Z" fill="#ffa800"/>
<path d="M105.60 364.35L107.02 366.71L104.18 366.71Z" fill="#ffa800"/>
<path d="M113.30 371.45L114.72 373.81L111.88 373.81Z" fill="#ffa800"/>
<ellipse cx="260.55" cy="362.75" rx="58.25" ry="32.45" fill="none" stroke="#000" stroke-width="1.1"/>
<line x1="194.80" y1="363.10" x2="325.50" y2="363.10" stroke="#000" stroke-width="1.0"/>
<line x1="260.40" y1="328.70" x2="260.40" y2="397.30" stroke="#000" stroke-width="1.0"/>
<line x1="194.80" y1="330.70" x2="194.80" y2="397.80" stroke="#111" stroke-width="1.1"/>
<path d="M193.85 331.50L194.80 328.50L195.75 331.50Z" fill="#111"/>
<line x1="194.30" y1="397.30" x2="324.00" y2="397.30" stroke="#111" stroke-width="1.1"/>
<path d="M323.20 396.35L326.00 397.30L323.20 398.25Z" fill="#111"/>
<line x1="195.52" y1="397.30" x2="195.52" y2="398.90" stroke="#111" stroke-width="0.9"/>
<line x1="203.63" y1="397.30" x2="203.63" y2="398.30" stroke="#111" stroke-width="0.9"/>
<line x1="211.74" y1="397.30" x2="211.74" y2="398.90" stroke="#111" stroke-width="0.9"/>
<line x1="219.85" y1="397.30" x2="219.85" y2="398.30" stroke="#111" stroke-width="0.9"/>
<line x1="227.96" y1="397.30" x2="227.96" y2="398.90" stroke="#111" stroke-width="0.9"/>
<line x1="236.07" y1="397.30" x2="236.07" y2="398.30" stroke="#111" stroke-width="0.9"/>
<line x1="244.18" y1="397.30" x2="244.18" y2="398.90" stroke="#111" stroke-width="0.9"/>
<line x1="252.29" y1="397.30" x2="252.29" y2="398.30" stroke="#111" stroke-width="0.9"/>
<line x1="260.40" y1="397.30" x2="260.40" y2="398.90" stroke="#111" stroke-width="0.9"/>
<line x1="268.51" y1="397.30" x2="268.51" y2="398.30" stroke="#111" stroke-width="0.9"/>
<line x1="276.62" y1="397.30" x2="276.62" y2="398.90" stroke="#111" stroke-width="0.9"/>
<line x1="284.73" y1="397.30" x2="284.73" y2="398.30" stroke="#111" stroke-width="0.9"/>
<line x1="292.84" y1="397.30" x2="292.84" y2="398.90" stroke="#111" stroke-width="0.9"/>
<line x1="300.95" y1="397.30" x2="300.95" y2="398.30" stroke="#111" stroke-width="0.9"/>
<line x1="309.06" y1="397.30" x2="309.06" y2="398.90" stroke="#111" stroke-width="0.9"/>
<line x1="317.17" y1="397.30" x2="317.17" y2="398.30" stroke="#111" stroke-width="0.9"/>
<text x="195.52" y="406.70" font-size="6.9" text-anchor="middle" fill="#222" style="stroke:none">-0.8</text>
<text x="211.74" y="406.70" font-size="6.9" text-anchor="middle" fill="#222" style="stroke:none">-0.6</text>
<text x="227.96" y="406.70" font-size="6.9" text-anchor="middle" fill="#222" style="stroke:none">-0.4</text>
<text x="244.18" y="406.70" font-size="6.9" text-anchor="middle" fill="#222" style="stroke:none">-0.2</text>
<text x="260.40" y="406.70" font-size="6.9" text-anchor="middle" fill="#222" style="stroke:none">0</text>
<text x="276.62" y="406.70" font-size="6.9" text-anchor="middle" fill="#222" style="stroke:none">0.2</text>
<text x="292.84" y="406.70" font-size="6.9" text-anchor="middle" fill="#222" style="stroke:none">0.4</text>
<text x="309.06" y="406.70" font-size="6.9" text-anchor="middle" fill="#222" style="stroke:none">0.6</text>
<line x1="193.20" y1="397.50" x2="194.80" y2="397.50" stroke="#111" stroke-width="0.9"/>
<line x1="193.80" y1="393.20" x2="194.80" y2="393.20" stroke="#111" stroke-width="0.9"/>
<line x1="193.20" y1="388.90" x2="194.80" y2="388.90" stroke="#111" stroke-width="0.9"/>
<line x1="193.80" y1="384.60" x2="194.80" y2="384.60" stroke="#111" stroke-width="0.9"/>
<line x1="193.20" y1="380.30" x2="194.80" y2="380.30" stroke="#111" stroke-width="0.9"/>
<line x1="193.80" y1="376.00" x2="194.80" y2="376.00" stroke="#111" stroke-width="0.9"/>
<line x1="193.20" y1="371.70" x2="194.80" y2="371.70" stroke="#111" stroke-width="0.9"/>
<line x1="193.80" y1="367.40" x2="194.80" y2="367.40" stroke="#111" stroke-width="0.9"/>
<line x1="193.20" y1="363.10" x2="194.80" y2="363.10" stroke="#111" stroke-width="0.9"/>
<line x1="193.80" y1="358.80" x2="194.80" y2="358.80" stroke="#111" stroke-width="0.9"/>
<line x1="193.20" y1="354.50" x2="194.80" y2="354.50" stroke="#111" stroke-width="0.9"/>
<line x1="193.80" y1="350.20" x2="194.80" y2="350.20" stroke="#111" stroke-width="0.9"/>
<line x1="193.20" y1="345.90" x2="194.80" y2="345.90" stroke="#111" stroke-width="0.9"/>
<line x1="193.80" y1="341.60" x2="194.80" y2="341.60" stroke="#111" stroke-width="0.9"/>
<line x1="193.20" y1="337.30" x2="194.80" y2="337.30" stroke="#111" stroke-width="0.9"/>
<line x1="193.80" y1="333.00" x2="194.80" y2="333.00" stroke="#111" stroke-width="0.9"/>
<text x="190.50" y="399.70" font-size="6.9" text-anchor="end" fill="#222" style="stroke:none">-0.8</text>
<text x="190.50" y="391.10" font-size="6.9" text-anchor="end" fill="#222" style="stroke:none">-0.6</text>
<text x="190.50" y="382.50" font-size="6.9" text-anchor="end" fill="#222" style="stroke:none">-0.4</text>
<text x="190.50" y="373.90" font-size="6.9" text-anchor="end" fill="#222" style="stroke:none">-0.2</text>
<text x="190.50" y="365.30" font-size="6.9" text-anchor="end" fill="#222" style="stroke:none">0</text>
<text x="190.50" y="356.70" font-size="6.9" text-anchor="end" fill="#222" style="stroke:none">0.2</text>
<text x="190.50" y="348.10" font-size="6.9" text-anchor="end" fill="#222" style="stroke:none">0.4</text>
<text x="190.50" y="339.50" font-size="6.9" text-anchor="end" fill="#222" style="stroke:none">0.6</text>
<text x="197.70" y="329.30" font-size="6.7" text-anchor="start" fill="#222">ESI+</text>
<text x="217.80" y="324.00" font-size="6.7" text-anchor="start" fill="#222">R2X = 0.717</text>
<text x="268.60" y="324.00" font-size="6.7" text-anchor="start" fill="#222">Q2 = 0.917</text>
<text x="258.50" y="417.80" font-size="6.75" text-anchor="middle" fill="#222">1.00043 * t [1]</text>
<text x="175.60" y="364.30" font-size="6.75" text-anchor="middle" fill="#222" transform="rotate(-90 175.60 364.30)">1.11064 * to [1]</text>
<path d="M196.90 428.55L198.61 430.45L196.90 432.35L195.19 430.45Z" fill="#111"/>
<text x="201.30" y="432.40" font-size="7.1" text-anchor="start" fill="#222">Group C</text>
<path d="M196.90 438.95L198.16 441.05L195.64 441.05Z" fill="#ffa800"/>
<text x="201.30" y="442.10" font-size="7.1" text-anchor="start" fill="#222">Group HG-r</text>
<text x="245.90" y="461.00" font-size="10.6" text-anchor="middle" fill="#222" style="stroke:none">(j)</text>
<path d="M238.20 355.90L239.91 357.80L238.20 359.70L236.49 357.80Z" fill="#111"/>
<path d="M240.80 358.70L242.51 360.60L240.80 362.50L239.09 360.60Z" fill="#111"/>
<path d="M244.20 354.80L245.91 356.70L244.20 358.60L242.49 356.70Z" fill="#111"/>
<path d="M240.40 363.80L242.11 365.70L240.40 367.60L238.69 365.70Z" fill="#111"/>
<path d="M245.10 365.10L246.81 367.00L245.10 368.90L243.39 367.00Z" fill="#111"/>
<path d="M241.40 368.10L243.11 370.00L241.40 371.90L239.69 370.00Z" fill="#111"/>
<path d="M278.80 346.75L280.22 349.11L277.38 349.11Z" fill="#ffa800"/>
<path d="M278.30 352.05L279.72 354.41L276.88 354.41Z" fill="#ffa800"/>
<path d="M278.30 355.75L279.72 358.11L276.88 358.11Z" fill="#ffa800"/>
<path d="M276.20 357.95L277.62 360.31L274.78 360.31Z" fill="#ffa800"/>
<path d="M276.60 360.05L278.02 362.41L275.18 362.41Z" fill="#ffa800"/>
<path d="M280.90 364.35L282.32 366.71L279.48 366.71Z" fill="#ffa800"/>
<path d="M282.40 371.45L283.82 373.81L280.98 373.81Z" fill="#ffa800"/>
<path d="M278.10 389.75L279.52 392.11L276.68 392.11Z" fill="#ffa800"/>
<ellipse cx="429.50" cy="363.25" rx="53.10" ry="29.05" fill="none" stroke="#000" stroke-width="1.1"/>
<line x1="364.20" y1="363.20" x2="494.50" y2="363.20" stroke="#000" stroke-width="1.0"/>
<line x1="429.40" y1="328.70" x2="429.40" y2="397.30" stroke="#000" stroke-width="1.0"/>
<line x1="364.20" y1="330.70" x2="364.20" y2="397.80" stroke="#111" stroke-width="1.1"/>
<path d="M363.25 331.50L364.20 328.50L365.15 331.50Z" fill="#111"/>
<line x1="363.70" y1="397.30" x2="493.00" y2="397.30" stroke="#111" stroke-width="1.1"/>
<path d="M492.20 396.35L495.00 397.30L492.20 398.25Z" fill="#111"/>
<line x1="364.90" y1="397.30" x2="364.90" y2="398.90" stroke="#111" stroke-width="0.9"/>
<line x1="375.65" y1="397.30" x2="375.65" y2="398.30" stroke="#111" stroke-width="0.9"/>
<line x1="386.40" y1="397.30" x2="386.40" y2="398.90" stroke="#111" stroke-width="0.9"/>
<line x1="397.15" y1="397.30" x2="397.15" y2="398.30" stroke="#111" stroke-width="0.9"/>
<line x1="407.90" y1="397.30" x2="407.90" y2="398.90" stroke="#111" stroke-width="0.9"/>
<line x1="418.65" y1="397.30" x2="418.65" y2="398.30" stroke="#111" stroke-width="0.9"/>
<line x1="429.40" y1="397.30" x2="429.40" y2="398.90" stroke="#111" stroke-width="0.9"/>
<line x1="440.15" y1="397.30" x2="440.15" y2="398.30" stroke="#111" stroke-width="0.9"/>
<line x1="450.90" y1="397.30" x2="450.90" y2="398.90" stroke="#111" stroke-width="0.9"/>
<line x1="461.65" y1="397.30" x2="461.65" y2="398.30" stroke="#111" stroke-width="0.9"/>
<line x1="472.40" y1="397.30" x2="472.40" y2="398.90" stroke="#111" stroke-width="0.9"/>
<line x1="483.15" y1="397.30" x2="483.15" y2="398.30" stroke="#111" stroke-width="0.9"/>
<text x="364.90" y="406.70" font-size="6.9" text-anchor="middle" fill="#222" style="stroke:none">-0.6</text>
<text x="386.40" y="406.70" font-size="6.9" text-anchor="middle" fill="#222" style="stroke:none">-0.4</text>
<text x="407.90" y="406.70" font-size="6.9" text-anchor="middle" fill="#222" style="stroke:none">-0.2</text>
<text x="429.40" y="406.70" font-size="6.9" text-anchor="middle" fill="#222" style="stroke:none">0</text>
<text x="450.90" y="406.70" font-size="6.9" text-anchor="middle" fill="#222" style="stroke:none">0.2</text>
<text x="472.40" y="406.70" font-size="6.9" text-anchor="middle" fill="#222" style="stroke:none">0.4</text>
<line x1="362.60" y1="397.40" x2="364.20" y2="397.40" stroke="#111" stroke-width="0.9"/>
<line x1="363.20" y1="391.70" x2="364.20" y2="391.70" stroke="#111" stroke-width="0.9"/>
<line x1="362.60" y1="386.00" x2="364.20" y2="386.00" stroke="#111" stroke-width="0.9"/>
<line x1="363.20" y1="380.30" x2="364.20" y2="380.30" stroke="#111" stroke-width="0.9"/>
<line x1="362.60" y1="374.60" x2="364.20" y2="374.60" stroke="#111" stroke-width="0.9"/>
<line x1="363.20" y1="368.90" x2="364.20" y2="368.90" stroke="#111" stroke-width="0.9"/>
<line x1="362.60" y1="363.20" x2="364.20" y2="363.20" stroke="#111" stroke-width="0.9"/>
<line x1="363.20" y1="357.50" x2="364.20" y2="357.50" stroke="#111" stroke-width="0.9"/>
<line x1="362.60" y1="351.80" x2="364.20" y2="351.80" stroke="#111" stroke-width="0.9"/>
<line x1="363.20" y1="346.10" x2="364.20" y2="346.10" stroke="#111" stroke-width="0.9"/>
<line x1="362.60" y1="340.40" x2="364.20" y2="340.40" stroke="#111" stroke-width="0.9"/>
<line x1="363.20" y1="334.70" x2="364.20" y2="334.70" stroke="#111" stroke-width="0.9"/>
<text x="359.90" y="399.60" font-size="6.9" text-anchor="end" fill="#222" style="stroke:none">-0.6</text>
<text x="359.90" y="388.20" font-size="6.9" text-anchor="end" fill="#222" style="stroke:none">-0.4</text>
<text x="359.90" y="376.80" font-size="6.9" text-anchor="end" fill="#222" style="stroke:none">-0.2</text>
<text x="359.90" y="365.40" font-size="6.9" text-anchor="end" fill="#222" style="stroke:none">0</text>
<text x="359.90" y="354.00" font-size="6.9" text-anchor="end" fill="#222" style="stroke:none">0.2</text>
<text x="359.90" y="342.60" font-size="6.9" text-anchor="end" fill="#222" style="stroke:none">0.4</text>
<text x="367.70" y="329.30" font-size="6.7" text-anchor="start" fill="#222">ESI-</text>
<text x="387.10" y="324.00" font-size="6.7" text-anchor="start" fill="#222">R2X = 0.853</text>
<text x="437.70" y="324.00" font-size="6.7" text-anchor="start" fill="#222">Q2 = 0.887</text>
<text x="428.40" y="417.80" font-size="6.75" text-anchor="middle" fill="#222">t [1]</text>
<text x="344.80" y="364.30" font-size="6.75" text-anchor="middle" fill="#222" transform="rotate(-90 344.80 364.30)">1.33913 * to [1]</text>
<path d="M366.50 428.65L368.39 430.45L366.50 432.25L364.61 430.45Z" fill="#bbb" stroke="#000" stroke-width="1.03"/>
<text x="370.40" y="432.40" font-size="7.1" text-anchor="start" fill="#222">Group CC</text>
<path d="M366.50 438.20L368.55 441.61L364.45 441.61Z" fill="#ffa800"/>
<text x="370.40" y="442.10" font-size="7.1" text-anchor="start" fill="#222">Group CHG-r</text>
<text x="415.00" y="461.00" font-size="10.6" text-anchor="middle" fill="#222" style="stroke:none">(k)</text>
<path d="M412.90 343.15L414.55 344.80L412.90 346.45L411.25 344.80Z" fill="none" stroke="#000" stroke-width="1.10"/>
<path d="M412.90 358.25L414.55 359.90L412.90 361.55L411.25 359.90Z" fill="none" stroke="#000" stroke-width="1.10"/>
<path d="M412.90 358.95L414.55 360.60L412.90 362.25L411.25 360.60Z" fill="none" stroke="#000" stroke-width="1.10"/>
<path d="M412.90 365.75L414.55 367.40L412.90 369.05L411.25 367.40Z" fill="none" stroke="#000" stroke-width="1.10"/>
<path d="M412.90 369.05L414.55 370.70L412.90 372.35L411.25 370.70Z" fill="none" stroke="#000" stroke-width="1.10"/>
<path d="M412.90 370.55L414.55 372.20L412.90 373.85L411.25 372.20Z" fill="none" stroke="#000" stroke-width="1.10"/>
<path d="M412.90 371.85L414.55 373.50L412.90 375.15L411.25 373.50Z" fill="none" stroke="#000" stroke-width="1.10"/>
<path d="M446.30 353.12L448.27 356.41L444.33 356.41Z" fill="#ffa800"/>
<path d="M446.30 354.82L448.27 358.11L444.33 358.11Z" fill="#ffa800"/>
<path d="M446.30 356.93L448.27 360.21L444.33 360.21Z" fill="#ffa800"/>
<path d="M446.30 358.73L448.27 362.01L444.33 362.01Z" fill="#ffa800"/>
<path d="M446.30 368.12L448.27 371.41L444.33 371.41Z" fill="#ffa800"/>
<path d="M446.30 377.82L448.27 381.11L444.33 381.11Z" fill="#ffa800"/>
<ellipse cx="598.85" cy="363.05" rx="53.35" ry="31.15" fill="none" stroke="#000" stroke-width="1.1"/>
<line x1="533.50" y1="363.10" x2="663.50" y2="363.10" stroke="#000" stroke-width="1.0"/>
<line x1="598.40" y1="328.70" x2="598.40" y2="397.30" stroke="#000" stroke-width="1.0"/>
<line x1="533.50" y1="330.70" x2="533.50" y2="397.80" stroke="#111" stroke-width="1.1"/>
<path d="M532.55 331.50L533.50 328.50L534.45 331.50Z" fill="#111"/>
<line x1="533.00" y1="397.30" x2="662.00" y2="397.30" stroke="#111" stroke-width="1.1"/>
<path d="M661.20 396.35L664.00 397.30L661.20 398.25Z" fill="#111"/>
<line x1="533.80" y1="397.30" x2="533.80" y2="398.90" stroke="#111" stroke-width="0.9"/>
<line x1="541.88" y1="397.30" x2="541.88" y2="398.30" stroke="#111" stroke-width="0.9"/>
<line x1="549.95" y1="397.30" x2="549.95" y2="398.90" stroke="#111" stroke-width="0.9"/>
<line x1="558.02" y1="397.30" x2="558.02" y2="398.30" stroke="#111" stroke-width="0.9"/>
<line x1="566.10" y1="397.30" x2="566.10" y2="398.90" stroke="#111" stroke-width="0.9"/>
<line x1="574.17" y1="397.30" x2="574.17" y2="398.30" stroke="#111" stroke-width="0.9"/>
<line x1="582.25" y1="397.30" x2="582.25" y2="398.90" stroke="#111" stroke-width="0.9"/>
<line x1="590.32" y1="397.30" x2="590.32" y2="398.30" stroke="#111" stroke-width="0.9"/>
<line x1="598.40" y1="397.30" x2="598.40" y2="398.90" stroke="#111" stroke-width="0.9"/>
<line x1="606.48" y1="397.30" x2="606.48" y2="398.30" stroke="#111" stroke-width="0.9"/>
<line x1="614.55" y1="397.30" x2="614.55" y2="398.90" stroke="#111" stroke-width="0.9"/>
<line x1="622.62" y1="397.30" x2="622.62" y2="398.30" stroke="#111" stroke-width="0.9"/>
<line x1="630.70" y1="397.30" x2="630.70" y2="398.90" stroke="#111" stroke-width="0.9"/>
<line x1="638.77" y1="397.30" x2="638.77" y2="398.30" stroke="#111" stroke-width="0.9"/>
<line x1="646.85" y1="397.30" x2="646.85" y2="398.90" stroke="#111" stroke-width="0.9"/>
<line x1="654.92" y1="397.30" x2="654.92" y2="398.30" stroke="#111" stroke-width="0.9"/>
<text x="533.80" y="406.70" font-size="6.9" text-anchor="middle" fill="#222" style="stroke:none">-0.8</text>
<text x="549.95" y="406.70" font-size="6.9" text-anchor="middle" fill="#222" style="stroke:none">-0.6</text>
<text x="566.10" y="406.70" font-size="6.9" text-anchor="middle" fill="#222" style="stroke:none">-0.4</text>
<text x="582.25" y="406.70" font-size="6.9" text-anchor="middle" fill="#222" style="stroke:none">-0.2</text>
<text x="598.40" y="406.70" font-size="6.9" text-anchor="middle" fill="#222" style="stroke:none">0</text>
<text x="614.55" y="406.70" font-size="6.9" text-anchor="middle" fill="#222" style="stroke:none">0.2</text>
<text x="630.70" y="406.70" font-size="6.9" text-anchor="middle" fill="#222" style="stroke:none">0.4</text>
<text x="646.85" y="406.70" font-size="6.9" text-anchor="middle" fill="#222" style="stroke:none">0.6</text>
<line x1="531.90" y1="397.50" x2="533.50" y2="397.50" stroke="#111" stroke-width="0.9"/>
<line x1="532.50" y1="393.20" x2="533.50" y2="393.20" stroke="#111" stroke-width="0.9"/>
<line x1="531.90" y1="388.90" x2="533.50" y2="388.90" stroke="#111" stroke-width="0.9"/>
<line x1="532.50" y1="384.60" x2="533.50" y2="384.60" stroke="#111" stroke-width="0.9"/>
<line x1="531.90" y1="380.30" x2="533.50" y2="380.30" stroke="#111" stroke-width="0.9"/>
<line x1="532.50" y1="376.00" x2="533.50" y2="376.00" stroke="#111" stroke-width="0.9"/>
<line x1="531.90" y1="371.70" x2="533.50" y2="371.70" stroke="#111" stroke-width="0.9"/>
<line x1="532.50" y1="367.40" x2="533.50" y2="367.40" stroke="#111" stroke-width="0.9"/>
<line x1="531.90" y1="363.10" x2="533.50" y2="363.10" stroke="#111" stroke-width="0.9"/>
<line x1="532.50" y1="358.80" x2="533.50" y2="358.80" stroke="#111" stroke-width="0.9"/>
<line x1="531.90" y1="354.50" x2="533.50" y2="354.50" stroke="#111" stroke-width="0.9"/>
<line x1="532.50" y1="350.20" x2="533.50" y2="350.20" stroke="#111" stroke-width="0.9"/>
<line x1="531.90" y1="345.90" x2="533.50" y2="345.90" stroke="#111" stroke-width="0.9"/>
<line x1="532.50" y1="341.60" x2="533.50" y2="341.60" stroke="#111" stroke-width="0.9"/>
<line x1="531.90" y1="337.30" x2="533.50" y2="337.30" stroke="#111" stroke-width="0.9"/>
<line x1="532.50" y1="333.00" x2="533.50" y2="333.00" stroke="#111" stroke-width="0.9"/>
<text x="529.20" y="399.70" font-size="6.9" text-anchor="end" fill="#222" style="stroke:none">-0.8</text>
<text x="529.20" y="391.10" font-size="6.9" text-anchor="end" fill="#222" style="stroke:none">-0.6</text>
<text x="529.20" y="382.50" font-size="6.9" text-anchor="end" fill="#222" style="stroke:none">-0.4</text>
<text x="529.20" y="373.90" font-size="6.9" text-anchor="end" fill="#222" style="stroke:none">-0.2</text>
<text x="529.20" y="365.30" font-size="6.9" text-anchor="end" fill="#222" style="stroke:none">0</text>
<text x="529.20" y="356.70" font-size="6.9" text-anchor="end" fill="#222" style="stroke:none">0.2</text>
<text x="529.20" y="348.10" font-size="6.9" text-anchor="end" fill="#222" style="stroke:none">0.4</text>
<text x="529.20" y="339.50" font-size="6.9" text-anchor="end" fill="#222" style="stroke:none">0.6</text>
<text x="536.30" y="329.30" font-size="6.7" text-anchor="start" fill="#222">ESI+</text>
<text x="556.80" y="324.00" font-size="6.7" text-anchor="start" fill="#222">R2X = 0.548</text>
<text x="606.90" y="324.00" font-size="6.7" text-anchor="start" fill="#222">Q2 = 0.369</text>
<text x="597.50" y="417.80" font-size="6.75" text-anchor="middle" fill="#222">1.00914 * t [1]</text>
<text x="514.20" y="364.30" font-size="6.75" text-anchor="middle" fill="#222" transform="rotate(-90 514.20 364.30)">1.41467 * to [1]</text>
<path d="M535.30 428.65L537.19 430.45L535.30 432.25L533.41 430.45Z" fill="#bbb" stroke="#000" stroke-width="1.03"/>
<text x="539.70" y="432.40" font-size="7.1" text-anchor="start" fill="#222">Group CC</text>
<path d="M535.30 438.20L537.35 441.61L533.25 441.61Z" fill="#ffa800"/>
<text x="539.70" y="442.10" font-size="7.1" text-anchor="start" fill="#222">Group CHG-r</text>
<text x="584.50" y="461.00" font-size="10.6" text-anchor="middle" fill="#222" style="stroke:none">(l)</text>
<path d="M581.00 341.45L582.65 343.10L581.00 344.75L579.35 343.10Z" fill="none" stroke="#000" stroke-width="1.10"/>
<path d="M577.20 361.45L578.85 363.10L577.20 364.75L575.55 363.10Z" fill="none" stroke="#000" stroke-width="1.10"/>
<path d="M581.50 359.75L583.15 361.40L581.50 363.05L579.85 361.40Z" fill="none" stroke="#000" stroke-width="1.10"/>
<path d="M583.20 364.75L584.85 366.40L583.20 368.05L581.55 366.40Z" fill="none" stroke="#000" stroke-width="1.10"/>
<path d="M581.90 365.75L583.55 367.40L581.90 369.05L580.25 367.40Z" fill="none" stroke="#000" stroke-width="1.10"/>
<path d="M594.00 376.15L595.65 377.80L594.00 379.45L592.35 377.80Z" fill="none" stroke="#000" stroke-width="1.10"/>
<path d="M619.60 341.93L621.57 345.21L617.63 345.21Z" fill="#ffa800"/>
<path d="M615.90 358.02L617.87 361.31L613.93 361.31Z" fill="#ffa800"/>
<path d="M609.00 363.43L610.97 366.71L607.03 366.71Z" fill="#ffa800"/>
<path d="M607.70 364.52L609.67 367.81L605.73 367.81Z" fill="#ffa800"/>
<path d="M627.30 363.43L629.27 366.71L625.33 366.71Z" fill="#ffa800"/>
<path d="M607.30 373.12L609.27 376.41L605.33 376.41Z" fill="#ffa800"/>
</g>
</svg></div>
</body></html>
